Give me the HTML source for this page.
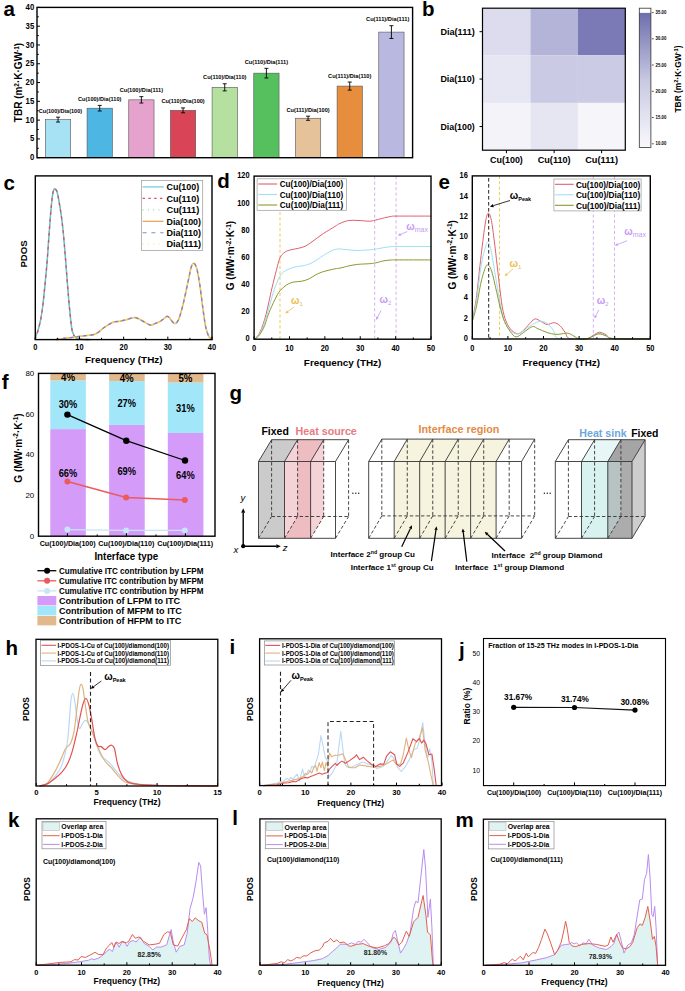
<!DOCTYPE html>
<html><head><meta charset="utf-8"><style>
html,body{margin:0;padding:0;background:#fff;}
svg{display:block;font-family:"Liberation Sans", sans-serif;}
</style></head><body>
<svg width="685" height="991" viewBox="0 0 685 991">
<rect width="685" height="991" fill="#fff"/>
<text x="3.40" y="16.10" font-size="20.5" font-weight="bold" fill="#000">a</text>
<rect x="45.40" y="119.60" width="25.30" height="38.10" fill="#a6e2f4" stroke="#555" stroke-width="0.6" />
<line x1="58.05" y1="117.16" x2="58.05" y2="122.04" stroke="#000" stroke-width="0.9" stroke-linecap="butt"/>
<line x1="56.05" y1="117.16" x2="60.05" y2="117.16" stroke="#000" stroke-width="0.9" stroke-linecap="butt"/>
<line x1="56.05" y1="122.04" x2="60.05" y2="122.04" stroke="#000" stroke-width="0.9" stroke-linecap="butt"/>
<text x="60.45" y="112.67" font-size="5.6" font-weight="bold" text-anchor="middle" fill="#000" textLength="43.30" lengthAdjust="spacingAndGlyphs">Cu(100)/Dia(100)</text>
<rect x="87.07" y="108.21" width="25.30" height="49.49" fill="#4db6e2" stroke="#555" stroke-width="0.6" />
<line x1="99.72" y1="105.40" x2="99.72" y2="111.03" stroke="#000" stroke-width="0.9" stroke-linecap="butt"/>
<line x1="97.72" y1="105.40" x2="101.72" y2="105.40" stroke="#000" stroke-width="0.9" stroke-linecap="butt"/>
<line x1="97.72" y1="111.03" x2="101.72" y2="111.03" stroke="#000" stroke-width="0.9" stroke-linecap="butt"/>
<text x="99.72" y="100.91" font-size="5.6" font-weight="bold" text-anchor="middle" fill="#000" textLength="43.30" lengthAdjust="spacingAndGlyphs">Cu(100)/Dia(110)</text>
<rect x="128.74" y="99.83" width="25.30" height="57.87" fill="#e4a2cc" stroke="#555" stroke-width="0.6" />
<line x1="141.39" y1="96.64" x2="141.39" y2="103.03" stroke="#000" stroke-width="0.9" stroke-linecap="butt"/>
<line x1="139.39" y1="96.64" x2="143.39" y2="96.64" stroke="#000" stroke-width="0.9" stroke-linecap="butt"/>
<line x1="139.39" y1="103.03" x2="143.39" y2="103.03" stroke="#000" stroke-width="0.9" stroke-linecap="butt"/>
<text x="141.39" y="92.16" font-size="5.6" font-weight="bold" text-anchor="middle" fill="#000" textLength="43.30" lengthAdjust="spacingAndGlyphs">Cu(100)/Dia(111)</text>
<rect x="170.41" y="110.36" width="25.30" height="47.34" fill="#d94456" stroke="#555" stroke-width="0.6" />
<line x1="183.06" y1="107.91" x2="183.06" y2="112.80" stroke="#000" stroke-width="0.9" stroke-linecap="butt"/>
<line x1="181.06" y1="107.91" x2="185.06" y2="107.91" stroke="#000" stroke-width="0.9" stroke-linecap="butt"/>
<line x1="181.06" y1="112.80" x2="185.06" y2="112.80" stroke="#000" stroke-width="0.9" stroke-linecap="butt"/>
<text x="183.06" y="103.43" font-size="5.6" font-weight="bold" text-anchor="middle" fill="#000" textLength="43.30" lengthAdjust="spacingAndGlyphs">Cu(110)/Dia(100)</text>
<rect x="212.08" y="87.32" width="25.30" height="70.38" fill="#b6e0a0" stroke="#555" stroke-width="0.6" />
<line x1="224.73" y1="83.75" x2="224.73" y2="90.89" stroke="#000" stroke-width="0.9" stroke-linecap="butt"/>
<line x1="222.73" y1="83.75" x2="226.73" y2="83.75" stroke="#000" stroke-width="0.9" stroke-linecap="butt"/>
<line x1="222.73" y1="90.89" x2="226.73" y2="90.89" stroke="#000" stroke-width="0.9" stroke-linecap="butt"/>
<text x="224.73" y="79.27" font-size="5.6" font-weight="bold" text-anchor="middle" fill="#000" textLength="43.30" lengthAdjust="spacingAndGlyphs">Cu(110)/Dia(110)</text>
<rect x="253.75" y="73.16" width="25.30" height="84.54" fill="#56c05e" stroke="#555" stroke-width="0.6" />
<line x1="266.40" y1="68.35" x2="266.40" y2="77.97" stroke="#000" stroke-width="0.9" stroke-linecap="butt"/>
<line x1="264.40" y1="68.35" x2="268.40" y2="68.35" stroke="#000" stroke-width="0.9" stroke-linecap="butt"/>
<line x1="264.40" y1="77.97" x2="268.40" y2="77.97" stroke="#000" stroke-width="0.9" stroke-linecap="butt"/>
<text x="266.40" y="63.86" font-size="5.6" font-weight="bold" text-anchor="middle" fill="#000" textLength="43.30" lengthAdjust="spacingAndGlyphs">Cu(110)/Dia(111)</text>
<rect x="295.42" y="118.25" width="25.30" height="39.45" fill="#e6c29a" stroke="#555" stroke-width="0.6" />
<line x1="308.07" y1="116.18" x2="308.07" y2="120.31" stroke="#000" stroke-width="0.9" stroke-linecap="butt"/>
<line x1="306.07" y1="116.18" x2="310.07" y2="116.18" stroke="#000" stroke-width="0.9" stroke-linecap="butt"/>
<line x1="306.07" y1="120.31" x2="310.07" y2="120.31" stroke="#000" stroke-width="0.9" stroke-linecap="butt"/>
<text x="308.07" y="111.70" font-size="5.6" font-weight="bold" text-anchor="middle" fill="#000" textLength="43.30" lengthAdjust="spacingAndGlyphs">Cu(111)/Dia(100)</text>
<rect x="337.09" y="86.08" width="25.30" height="71.62" fill="#e68e3e" stroke="#555" stroke-width="0.6" />
<line x1="349.74" y1="82.06" x2="349.74" y2="90.10" stroke="#000" stroke-width="0.9" stroke-linecap="butt"/>
<line x1="347.74" y1="82.06" x2="351.74" y2="82.06" stroke="#000" stroke-width="0.9" stroke-linecap="butt"/>
<line x1="347.74" y1="90.10" x2="351.74" y2="90.10" stroke="#000" stroke-width="0.9" stroke-linecap="butt"/>
<text x="349.74" y="77.58" font-size="5.6" font-weight="bold" text-anchor="middle" fill="#000" textLength="43.30" lengthAdjust="spacingAndGlyphs">Cu(111)/Dia(110)</text>
<rect x="378.76" y="32.09" width="25.30" height="125.61" fill="#b8b8e0" stroke="#555" stroke-width="0.6" />
<line x1="391.41" y1="25.70" x2="391.41" y2="38.47" stroke="#000" stroke-width="0.9" stroke-linecap="butt"/>
<line x1="389.41" y1="25.70" x2="393.41" y2="25.70" stroke="#000" stroke-width="0.9" stroke-linecap="butt"/>
<line x1="389.41" y1="38.47" x2="393.41" y2="38.47" stroke="#000" stroke-width="0.9" stroke-linecap="butt"/>
<text x="387.71" y="21.22" font-size="5.6" font-weight="bold" text-anchor="middle" fill="#000" textLength="43.30" lengthAdjust="spacingAndGlyphs">Cu(111)/Dia(111)</text>
<rect x="37.00" y="7.40" width="375.60" height="150.30" fill="none" stroke="#000" stroke-width="1.4"/>
<line x1="37.00" y1="157.70" x2="40.00" y2="157.70" stroke="#000" stroke-width="1" stroke-linecap="butt"/>
<line x1="37.00" y1="148.31" x2="38.80" y2="148.31" stroke="#000" stroke-width="1" stroke-linecap="butt"/>
<line x1="37.00" y1="138.91" x2="40.00" y2="138.91" stroke="#000" stroke-width="1" stroke-linecap="butt"/>
<line x1="37.00" y1="129.52" x2="38.80" y2="129.52" stroke="#000" stroke-width="1" stroke-linecap="butt"/>
<line x1="37.00" y1="120.12" x2="40.00" y2="120.12" stroke="#000" stroke-width="1" stroke-linecap="butt"/>
<line x1="37.00" y1="110.73" x2="38.80" y2="110.73" stroke="#000" stroke-width="1" stroke-linecap="butt"/>
<line x1="37.00" y1="101.34" x2="40.00" y2="101.34" stroke="#000" stroke-width="1" stroke-linecap="butt"/>
<line x1="37.00" y1="91.94" x2="38.80" y2="91.94" stroke="#000" stroke-width="1" stroke-linecap="butt"/>
<line x1="37.00" y1="82.55" x2="40.00" y2="82.55" stroke="#000" stroke-width="1" stroke-linecap="butt"/>
<line x1="37.00" y1="73.16" x2="38.80" y2="73.16" stroke="#000" stroke-width="1" stroke-linecap="butt"/>
<line x1="37.00" y1="63.76" x2="40.00" y2="63.76" stroke="#000" stroke-width="1" stroke-linecap="butt"/>
<line x1="37.00" y1="54.37" x2="38.80" y2="54.37" stroke="#000" stroke-width="1" stroke-linecap="butt"/>
<line x1="37.00" y1="44.97" x2="40.00" y2="44.97" stroke="#000" stroke-width="1" stroke-linecap="butt"/>
<line x1="37.00" y1="35.58" x2="38.80" y2="35.58" stroke="#000" stroke-width="1" stroke-linecap="butt"/>
<line x1="37.00" y1="26.19" x2="40.00" y2="26.19" stroke="#000" stroke-width="1" stroke-linecap="butt"/>
<line x1="37.00" y1="16.79" x2="38.80" y2="16.79" stroke="#000" stroke-width="1" stroke-linecap="butt"/>
<line x1="37.00" y1="7.40" x2="40.00" y2="7.40" stroke="#000" stroke-width="1" stroke-linecap="butt"/>
<text x="34.20" y="160.25" font-size="8.2" font-weight="bold" text-anchor="end" fill="#000" textLength="4.30" lengthAdjust="spacingAndGlyphs">0</text>
<text x="34.20" y="141.46" font-size="8.2" font-weight="bold" text-anchor="end" fill="#000" textLength="4.30" lengthAdjust="spacingAndGlyphs">5</text>
<text x="34.20" y="122.68" font-size="8.2" font-weight="bold" text-anchor="end" fill="#000" textLength="8.60" lengthAdjust="spacingAndGlyphs">10</text>
<text x="34.20" y="103.89" font-size="8.2" font-weight="bold" text-anchor="end" fill="#000" textLength="8.60" lengthAdjust="spacingAndGlyphs">15</text>
<text x="34.20" y="85.10" font-size="8.2" font-weight="bold" text-anchor="end" fill="#000" textLength="8.60" lengthAdjust="spacingAndGlyphs">20</text>
<text x="34.20" y="66.31" font-size="8.2" font-weight="bold" text-anchor="end" fill="#000" textLength="8.60" lengthAdjust="spacingAndGlyphs">25</text>
<text x="34.20" y="47.53" font-size="8.2" font-weight="bold" text-anchor="end" fill="#000" textLength="8.60" lengthAdjust="spacingAndGlyphs">30</text>
<text x="34.20" y="28.74" font-size="8.2" font-weight="bold" text-anchor="end" fill="#000" textLength="8.60" lengthAdjust="spacingAndGlyphs">35</text>
<text x="34.20" y="9.95" font-size="8.2" font-weight="bold" text-anchor="end" fill="#000" textLength="8.60" lengthAdjust="spacingAndGlyphs">40</text>
<text x="18.50" y="86.10" font-size="10" font-weight="bold" text-anchor="middle" fill="#000" transform="rotate(-90 18.50 82.50)">TBR (m<tspan font-size="6.5" dy="-3.5">2</tspan><tspan dy="3.5">·K·GW</tspan><tspan font-size="6.5" dy="-3.5">-1</tspan><tspan dy="3.5">)</tspan></text>
<text x="422.00" y="16.00" font-size="20.5" font-weight="bold" fill="#000">b</text>
<rect x="482.50" y="8.20" width="47.90" height="47.00" fill="#dcdcee" stroke="none" stroke-width="1" />
<rect x="530.40" y="8.20" width="47.50" height="47.00" fill="#b4b4d8" stroke="none" stroke-width="1" />
<rect x="577.90" y="8.20" width="47.40" height="47.00" fill="#7c7ab6" stroke="none" stroke-width="1" />
<rect x="482.50" y="55.20" width="47.90" height="47.70" fill="#e7e7f4" stroke="none" stroke-width="1" />
<rect x="530.40" y="55.20" width="47.50" height="47.70" fill="#cacae4" stroke="none" stroke-width="1" />
<rect x="577.90" y="55.20" width="47.40" height="47.70" fill="#cbcbe5" stroke="none" stroke-width="1" />
<rect x="482.50" y="102.90" width="47.90" height="47.30" fill="#f3f3f9" stroke="none" stroke-width="1" />
<rect x="530.40" y="102.90" width="47.50" height="47.30" fill="#e6e6f3" stroke="none" stroke-width="1" />
<rect x="577.90" y="102.90" width="47.40" height="47.30" fill="#f5f5fa" stroke="none" stroke-width="1" />
<rect x="482.50" y="8.20" width="142.80" height="142.00" fill="none" stroke="#000" stroke-width="1.2"/>
<line x1="479.50" y1="31.70" x2="482.50" y2="31.70" stroke="#000" stroke-width="1" stroke-linecap="butt"/>
<text x="474.80" y="34.90" font-size="8.9" font-weight="bold" text-anchor="end" fill="#000" textLength="34.40" lengthAdjust="spacingAndGlyphs">Dia(111)</text>
<line x1="479.50" y1="79.05" x2="482.50" y2="79.05" stroke="#000" stroke-width="1" stroke-linecap="butt"/>
<text x="474.80" y="82.25" font-size="8.9" font-weight="bold" text-anchor="end" fill="#000" textLength="34.40" lengthAdjust="spacingAndGlyphs">Dia(110)</text>
<line x1="479.50" y1="126.55" x2="482.50" y2="126.55" stroke="#000" stroke-width="1" stroke-linecap="butt"/>
<text x="474.80" y="129.75" font-size="8.9" font-weight="bold" text-anchor="end" fill="#000" textLength="34.40" lengthAdjust="spacingAndGlyphs">Dia(100)</text>
<line x1="506.45" y1="150.20" x2="506.45" y2="153.20" stroke="#000" stroke-width="1" stroke-linecap="butt"/>
<text x="506.45" y="163.20" font-size="8.9" font-weight="bold" text-anchor="middle" fill="#000" textLength="32.80" lengthAdjust="spacingAndGlyphs">Cu(100)</text>
<line x1="554.15" y1="150.20" x2="554.15" y2="153.20" stroke="#000" stroke-width="1" stroke-linecap="butt"/>
<text x="554.15" y="163.20" font-size="8.9" font-weight="bold" text-anchor="middle" fill="#000" textLength="32.80" lengthAdjust="spacingAndGlyphs">Cu(110)</text>
<line x1="601.60" y1="150.20" x2="601.60" y2="153.20" stroke="#000" stroke-width="1" stroke-linecap="butt"/>
<text x="601.60" y="163.20" font-size="8.9" font-weight="bold" text-anchor="middle" fill="#000" textLength="32.80" lengthAdjust="spacingAndGlyphs">Cu(111)</text>
<defs><linearGradient id="cb" x1="0" y1="1" x2="0" y2="0"><stop offset="0" stop-color="#f9f9fc"/><stop offset="0.5" stop-color="#c8c8e2"/><stop offset="1" stop-color="#6e6eae"/></linearGradient></defs>
<rect x="639.30" y="12.90" width="11.60" height="134.70" fill="url(#cb)" stroke="none" stroke-width="1" />
<rect x="639.30" y="8.20" width="11.60" height="139.40" fill="none" stroke="#333" stroke-width="0.8" />
<line x1="651.90" y1="143.80" x2="653.70" y2="143.80" stroke="#000" stroke-width="0.7" stroke-linecap="butt"/>
<text x="655.60" y="145.46" font-size="4.6" font-weight="bold" text-anchor="start" fill="#000" textLength="10.80" lengthAdjust="spacingAndGlyphs">10.00</text>
<line x1="651.90" y1="117.50" x2="653.70" y2="117.50" stroke="#000" stroke-width="0.7" stroke-linecap="butt"/>
<text x="655.60" y="119.16" font-size="4.6" font-weight="bold" text-anchor="start" fill="#000" textLength="10.80" lengthAdjust="spacingAndGlyphs">15.00</text>
<line x1="651.90" y1="91.30" x2="653.70" y2="91.30" stroke="#000" stroke-width="0.7" stroke-linecap="butt"/>
<text x="655.60" y="92.96" font-size="4.6" font-weight="bold" text-anchor="start" fill="#000" textLength="10.80" lengthAdjust="spacingAndGlyphs">20.00</text>
<line x1="651.90" y1="65.00" x2="653.70" y2="65.00" stroke="#000" stroke-width="0.7" stroke-linecap="butt"/>
<text x="655.60" y="66.66" font-size="4.6" font-weight="bold" text-anchor="start" fill="#000" textLength="10.80" lengthAdjust="spacingAndGlyphs">25.00</text>
<line x1="651.90" y1="38.80" x2="653.70" y2="38.80" stroke="#000" stroke-width="0.7" stroke-linecap="butt"/>
<text x="655.60" y="40.46" font-size="4.6" font-weight="bold" text-anchor="start" fill="#000" textLength="10.80" lengthAdjust="spacingAndGlyphs">30.00</text>
<line x1="651.90" y1="12.60" x2="653.70" y2="12.60" stroke="#000" stroke-width="0.7" stroke-linecap="butt"/>
<text x="655.60" y="14.26" font-size="4.6" font-weight="bold" text-anchor="start" fill="#000" textLength="10.80" lengthAdjust="spacingAndGlyphs">35.00</text>
<text x="678.20" y="82.02" font-size="8.4" font-weight="bold" text-anchor="middle" fill="#000" transform="rotate(-90 678.20 79.00)">TBR (m<tspan font-size="5.8" dy="-3.2">2</tspan><tspan dy="3.2">·K·GW</tspan><tspan font-size="5.8" dy="-3.2">-1</tspan><tspan dy="3.2">)</tspan></text>
<text x="3.60" y="190.00" font-size="20.5" font-weight="bold" fill="#000">c</text>
<path d="M35.30,339.20 C35.45,338.53 35.75,336.65 36.20,335.20 C36.65,333.75 37.27,333.03 38.00,330.50 C38.73,327.97 39.85,323.75 40.60,320.00 C41.35,316.25 41.92,312.38 42.50,308.00 C43.08,303.62 43.38,300.80 44.10,293.70 C44.82,286.60 46.05,274.23 46.80,265.40 C47.55,256.57 48.02,248.65 48.60,240.70 C49.18,232.75 49.72,224.77 50.30,217.70 C50.88,210.63 51.57,202.83 52.10,198.30 C52.63,193.77 53.07,192.12 53.50,190.50 C53.93,188.88 54.28,188.72 54.70,188.60 C55.12,188.48 55.55,189.07 56.00,189.80 C56.45,190.53 56.77,190.30 57.40,193.00 C58.03,195.70 59.07,201.58 59.80,206.00 C60.53,210.42 61.18,214.67 61.80,219.50 C62.42,224.33 62.93,229.08 63.50,235.00 C64.07,240.92 64.63,248.00 65.20,255.00 C65.77,262.00 66.33,269.83 66.90,277.00 C67.47,284.17 68.03,291.50 68.60,298.00 C69.17,304.50 69.67,310.42 70.30,316.00 C70.93,321.58 71.47,327.87 72.40,331.50 C73.33,335.13 74.43,336.52 75.90,337.80 C77.37,339.08 78.85,338.90 81.20,339.20 C83.55,339.50 88.53,339.53 90.00,339.60" fill="none" stroke="#62c4e6" stroke-width="1.5" stroke-linejoin="round" stroke-linecap="round" />
<path d="M35.30,339.20 C35.45,338.53 35.75,336.65 36.20,335.20 C36.65,333.75 37.27,333.03 38.00,330.50 C38.73,327.97 39.85,323.75 40.60,320.00 C41.35,316.25 41.92,312.38 42.50,308.00 C43.08,303.62 43.38,300.80 44.10,293.70 C44.82,286.60 46.05,274.23 46.80,265.40 C47.55,256.57 48.02,248.65 48.60,240.70 C49.18,232.75 49.72,224.77 50.30,217.70 C50.88,210.63 51.57,202.83 52.10,198.30 C52.63,193.77 53.07,192.12 53.50,190.50 C53.93,188.88 54.28,188.72 54.70,188.60 C55.12,188.48 55.55,189.07 56.00,189.80 C56.45,190.53 56.77,190.30 57.40,193.00 C58.03,195.70 59.07,201.58 59.80,206.00 C60.53,210.42 61.18,214.67 61.80,219.50 C62.42,224.33 62.93,229.08 63.50,235.00 C64.07,240.92 64.63,248.00 65.20,255.00 C65.77,262.00 66.33,269.83 66.90,277.00 C67.47,284.17 68.03,291.50 68.60,298.00 C69.17,304.50 69.67,310.42 70.30,316.00 C70.93,321.58 71.47,327.87 72.40,331.50 C73.33,335.13 74.43,336.52 75.90,337.80 C77.37,339.08 78.85,338.90 81.20,339.20 C83.55,339.50 88.53,339.53 90.00,339.60" fill="none" stroke="#d84c66" stroke-width="1.3" stroke-dasharray="2.2,4.8" stroke-linejoin="round" stroke-linecap="round" />
<path d="M35.30,339.20 C35.45,338.53 35.75,336.65 36.20,335.20 C36.65,333.75 37.27,333.03 38.00,330.50 C38.73,327.97 39.85,323.75 40.60,320.00 C41.35,316.25 41.92,312.38 42.50,308.00 C43.08,303.62 43.38,300.80 44.10,293.70 C44.82,286.60 46.05,274.23 46.80,265.40 C47.55,256.57 48.02,248.65 48.60,240.70 C49.18,232.75 49.72,224.77 50.30,217.70 C50.88,210.63 51.57,202.83 52.10,198.30 C52.63,193.77 53.07,192.12 53.50,190.50 C53.93,188.88 54.28,188.72 54.70,188.60 C55.12,188.48 55.55,189.07 56.00,189.80 C56.45,190.53 56.77,190.30 57.40,193.00 C58.03,195.70 59.07,201.58 59.80,206.00 C60.53,210.42 61.18,214.67 61.80,219.50 C62.42,224.33 62.93,229.08 63.50,235.00 C64.07,240.92 64.63,248.00 65.20,255.00 C65.77,262.00 66.33,269.83 66.90,277.00 C67.47,284.17 68.03,291.50 68.60,298.00 C69.17,304.50 69.67,310.42 70.30,316.00 C70.93,321.58 71.47,327.87 72.40,331.50 C73.33,335.13 74.43,336.52 75.90,337.80 C77.37,339.08 78.85,338.90 81.20,339.20 C83.55,339.50 88.53,339.53 90.00,339.60" fill="none" stroke="#70cc80" stroke-width="1.1" stroke-dasharray="1.0,6.0" stroke-linejoin="round" stroke-linecap="round" stroke-dashoffset="-3.5"/>
<path d="M56.50,339.50 C57.97,339.28 62.35,338.58 65.30,338.20 C68.25,337.82 71.25,337.58 74.20,337.20 C77.15,336.82 79.47,336.43 83.00,335.90 C86.53,335.37 91.87,335.40 95.40,334.00 C98.93,332.60 101.27,329.45 104.20,327.50 C107.13,325.55 110.37,323.35 113.00,322.30 C115.63,321.25 117.68,321.67 120.00,321.20 C122.32,320.73 124.47,320.12 126.90,319.50 C129.33,318.88 132.28,317.42 134.60,317.50 C136.92,317.58 138.27,318.77 140.80,320.00 C143.33,321.23 147.43,324.30 149.80,324.90 C152.17,325.50 153.27,324.18 155.00,323.60 C156.73,323.02 158.62,322.33 160.20,321.40 C161.78,320.47 163.33,318.85 164.50,318.00 C165.67,317.15 166.37,316.33 167.20,316.30 C168.03,316.27 168.82,317.10 169.50,317.80 C170.18,318.50 170.63,319.67 171.30,320.50 C171.97,321.33 172.80,322.30 173.50,322.80 C174.20,323.30 174.83,323.72 175.50,323.50 C176.17,323.28 176.82,322.58 177.50,321.50 C178.18,320.42 178.55,320.37 179.60,317.00 C180.65,313.63 182.40,307.15 183.80,301.30 C185.20,295.45 186.73,287.68 188.00,281.90 C189.27,276.12 190.37,269.67 191.40,266.60 C192.43,263.53 193.27,263.03 194.20,263.50 C195.13,263.97 196.07,265.87 197.00,269.40 C197.93,272.93 198.88,278.68 199.80,284.70 C200.72,290.72 201.58,298.80 202.50,305.50 C203.42,312.20 204.38,320.05 205.30,324.90 C206.22,329.75 207.08,332.28 208.00,334.60 C208.92,336.92 210.13,338.00 210.80,338.80 C211.47,339.60 211.80,339.30 212.00,339.40" fill="none" stroke="#e8a050" stroke-width="1.5" stroke-linejoin="round" stroke-linecap="round" />
<path d="M56.50,339.50 C57.97,339.28 62.35,338.58 65.30,338.20 C68.25,337.82 71.25,337.58 74.20,337.20 C77.15,336.82 79.47,336.43 83.00,335.90 C86.53,335.37 91.87,335.40 95.40,334.00 C98.93,332.60 101.27,329.45 104.20,327.50 C107.13,325.55 110.37,323.35 113.00,322.30 C115.63,321.25 117.68,321.67 120.00,321.20 C122.32,320.73 124.47,320.12 126.90,319.50 C129.33,318.88 132.28,317.42 134.60,317.50 C136.92,317.58 138.27,318.77 140.80,320.00 C143.33,321.23 147.43,324.30 149.80,324.90 C152.17,325.50 153.27,324.18 155.00,323.60 C156.73,323.02 158.62,322.33 160.20,321.40 C161.78,320.47 163.33,318.85 164.50,318.00 C165.67,317.15 166.37,316.33 167.20,316.30 C168.03,316.27 168.82,317.10 169.50,317.80 C170.18,318.50 170.63,319.67 171.30,320.50 C171.97,321.33 172.80,322.30 173.50,322.80 C174.20,323.30 174.83,323.72 175.50,323.50 C176.17,323.28 176.82,322.58 177.50,321.50 C178.18,320.42 178.55,320.37 179.60,317.00 C180.65,313.63 182.40,307.15 183.80,301.30 C185.20,295.45 186.73,287.68 188.00,281.90 C189.27,276.12 190.37,269.67 191.40,266.60 C192.43,263.53 193.27,263.03 194.20,263.50 C195.13,263.97 196.07,265.87 197.00,269.40 C197.93,272.93 198.88,278.68 199.80,284.70 C200.72,290.72 201.58,298.80 202.50,305.50 C203.42,312.20 204.38,320.05 205.30,324.90 C206.22,329.75 207.08,332.28 208.00,334.60 C208.92,336.92 210.13,338.00 210.80,338.80 C211.47,339.60 211.80,339.30 212.00,339.40" fill="none" stroke="#7388d8" stroke-width="1.3" stroke-dasharray="2.2,4.8" stroke-linejoin="round" stroke-linecap="round" />
<path d="M56.50,339.50 C57.97,339.28 62.35,338.58 65.30,338.20 C68.25,337.82 71.25,337.58 74.20,337.20 C77.15,336.82 79.47,336.43 83.00,335.90 C86.53,335.37 91.87,335.40 95.40,334.00 C98.93,332.60 101.27,329.45 104.20,327.50 C107.13,325.55 110.37,323.35 113.00,322.30 C115.63,321.25 117.68,321.67 120.00,321.20 C122.32,320.73 124.47,320.12 126.90,319.50 C129.33,318.88 132.28,317.42 134.60,317.50 C136.92,317.58 138.27,318.77 140.80,320.00 C143.33,321.23 147.43,324.30 149.80,324.90 C152.17,325.50 153.27,324.18 155.00,323.60 C156.73,323.02 158.62,322.33 160.20,321.40 C161.78,320.47 163.33,318.85 164.50,318.00 C165.67,317.15 166.37,316.33 167.20,316.30 C168.03,316.27 168.82,317.10 169.50,317.80 C170.18,318.50 170.63,319.67 171.30,320.50 C171.97,321.33 172.80,322.30 173.50,322.80 C174.20,323.30 174.83,323.72 175.50,323.50 C176.17,323.28 176.82,322.58 177.50,321.50 C178.18,320.42 178.55,320.37 179.60,317.00 C180.65,313.63 182.40,307.15 183.80,301.30 C185.20,295.45 186.73,287.68 188.00,281.90 C189.27,276.12 190.37,269.67 191.40,266.60 C192.43,263.53 193.27,263.03 194.20,263.50 C195.13,263.97 196.07,265.87 197.00,269.40 C197.93,272.93 198.88,278.68 199.80,284.70 C200.72,290.72 201.58,298.80 202.50,305.50 C203.42,312.20 204.38,320.05 205.30,324.90 C206.22,329.75 207.08,332.28 208.00,334.60 C208.92,336.92 210.13,338.00 210.80,338.80 C211.47,339.60 211.80,339.30 212.00,339.40" fill="none" stroke="#eaea60" stroke-width="1.1" stroke-dasharray="1.0,6.0" stroke-linejoin="round" stroke-linecap="round" stroke-dashoffset="-3.5"/>
<rect x="35.30" y="175.90" width="176.70" height="163.70" fill="none" stroke="#000" stroke-width="1.4"/>
<line x1="35.30" y1="339.60" x2="35.30" y2="336.60" stroke="#000" stroke-width="1" stroke-linecap="butt"/>
<line x1="57.39" y1="339.60" x2="57.39" y2="337.80" stroke="#000" stroke-width="1" stroke-linecap="butt"/>
<line x1="79.47" y1="339.60" x2="79.47" y2="336.60" stroke="#000" stroke-width="1" stroke-linecap="butt"/>
<line x1="101.56" y1="339.60" x2="101.56" y2="337.80" stroke="#000" stroke-width="1" stroke-linecap="butt"/>
<line x1="123.65" y1="339.60" x2="123.65" y2="336.60" stroke="#000" stroke-width="1" stroke-linecap="butt"/>
<line x1="145.74" y1="339.60" x2="145.74" y2="337.80" stroke="#000" stroke-width="1" stroke-linecap="butt"/>
<line x1="167.82" y1="339.60" x2="167.82" y2="336.60" stroke="#000" stroke-width="1" stroke-linecap="butt"/>
<line x1="189.91" y1="339.60" x2="189.91" y2="337.80" stroke="#000" stroke-width="1" stroke-linecap="butt"/>
<line x1="212.00" y1="339.60" x2="212.00" y2="336.60" stroke="#000" stroke-width="1" stroke-linecap="butt"/>
<text x="35.30" y="350.15" font-size="8.2" font-weight="bold" text-anchor="middle" fill="#000" textLength="4.15" lengthAdjust="spacingAndGlyphs">0</text>
<text x="79.47" y="350.15" font-size="8.2" font-weight="bold" text-anchor="middle" fill="#000" textLength="8.30" lengthAdjust="spacingAndGlyphs">10</text>
<text x="123.65" y="350.15" font-size="8.2" font-weight="bold" text-anchor="middle" fill="#000" textLength="8.30" lengthAdjust="spacingAndGlyphs">20</text>
<text x="167.82" y="350.15" font-size="8.2" font-weight="bold" text-anchor="middle" fill="#000" textLength="8.30" lengthAdjust="spacingAndGlyphs">30</text>
<text x="212.00" y="350.15" font-size="8.2" font-weight="bold" text-anchor="middle" fill="#000" textLength="8.30" lengthAdjust="spacingAndGlyphs">40</text>
<text x="123.80" y="363.22" font-size="9.5" font-weight="bold" text-anchor="middle" fill="#000" textLength="77.50" lengthAdjust="spacingAndGlyphs">Frequency (THz)</text>
<text x="23.60" y="257.46" font-size="9.6" font-weight="bold" text-anchor="middle" fill="#000" transform="rotate(-90 23.60 254.00)">PDOS</text>
<rect x="141.40" y="180.50" width="61.30" height="70.10" fill="#fff" stroke="#999" stroke-width="0.7" />
<line x1="142.60" y1="186.90" x2="163.60" y2="186.90" stroke="#6cc8e2" stroke-width="1.2" stroke-linecap="butt"/>
<text x="166.50" y="190.14" font-size="9" font-weight="bold" text-anchor="start" fill="#000" textLength="32.70" lengthAdjust="spacingAndGlyphs">Cu(100)</text>
<line x1="142.60" y1="198.36" x2="163.60" y2="198.36" stroke="#d84c66" stroke-width="1.2" stroke-dasharray="2.4,3.4" stroke-linecap="butt"/>
<text x="166.50" y="201.60" font-size="9" font-weight="bold" text-anchor="start" fill="#000" textLength="32.70" lengthAdjust="spacingAndGlyphs">Cu(110)</text>
<line x1="142.60" y1="209.82" x2="163.60" y2="209.82" stroke="#8ede96" stroke-width="1.2" stroke-dasharray="1,4.3" stroke-linecap="butt"/>
<text x="166.50" y="213.06" font-size="9" font-weight="bold" text-anchor="start" fill="#000" textLength="32.70" lengthAdjust="spacingAndGlyphs">Cu(111)</text>
<line x1="142.60" y1="221.28" x2="163.60" y2="221.28" stroke="#e8a050" stroke-width="1.2" stroke-linecap="butt"/>
<text x="166.50" y="224.52" font-size="9" font-weight="bold" text-anchor="start" fill="#000" textLength="34.50" lengthAdjust="spacingAndGlyphs">Dia(100)</text>
<line x1="142.60" y1="232.74" x2="163.60" y2="232.74" stroke="#7b8fd9" stroke-width="1.2" stroke-dasharray="4,4.8" stroke-linecap="butt"/>
<text x="166.50" y="235.98" font-size="9" font-weight="bold" text-anchor="start" fill="#000" textLength="34.50" lengthAdjust="spacingAndGlyphs">Dia(110)</text>
<line x1="142.60" y1="244.20" x2="163.60" y2="244.20" stroke="#f0f070" stroke-width="1.2" stroke-dasharray="1,4.3" stroke-linecap="butt"/>
<text x="166.50" y="247.44" font-size="9" font-weight="bold" text-anchor="start" fill="#000" textLength="34.50" lengthAdjust="spacingAndGlyphs">Dia(111)</text>
<text x="217.20" y="187.90" font-size="20.5" font-weight="bold" fill="#000">d</text>
<line x1="280.00" y1="212.00" x2="280.00" y2="339.20" stroke="#ecd064" stroke-width="1.1" stroke-dasharray="3,2.4" stroke-linecap="butt"/>
<line x1="374.70" y1="176.10" x2="374.70" y2="339.20" stroke="#cfa9f6" stroke-width="0.9" stroke-dasharray="3.2,2.3" stroke-linecap="butt"/>
<line x1="396.10" y1="176.10" x2="396.10" y2="339.20" stroke="#cfa9f6" stroke-width="0.9" stroke-dasharray="3.2,2.3" stroke-linecap="butt"/>
<path d="M254.40,339.10 C254.83,338.72 256.03,338.02 257.00,336.80 C257.97,335.58 259.20,333.85 260.20,331.80 C261.20,329.75 262.02,327.43 263.00,324.50 C263.98,321.57 265.10,318.03 266.10,314.20 C267.10,310.37 268.02,305.90 269.00,301.50 C269.98,297.10 270.77,293.00 272.00,287.80 C273.23,282.60 275.07,275.30 276.40,270.30 C277.73,265.30 278.55,260.85 280.00,257.80 C281.45,254.75 283.27,253.33 285.10,252.00 C286.93,250.67 288.80,250.42 291.00,249.80 C293.20,249.18 295.87,248.92 298.30,248.30 C300.73,247.68 303.15,247.32 305.60,246.10 C308.05,244.88 310.07,243.07 313.00,241.00 C315.93,238.93 319.53,236.13 323.20,233.70 C326.87,231.27 332.20,228.12 335.00,226.40 C337.80,224.68 337.70,224.38 340.00,223.40 C342.30,222.42 345.63,220.98 348.80,220.50 C351.97,220.02 355.58,220.38 359.00,220.50 C362.42,220.62 366.62,221.25 369.30,221.20 C371.98,221.15 372.90,220.68 375.10,220.20 C377.30,219.72 379.82,218.93 382.50,218.30 C385.18,217.67 388.93,216.77 391.20,216.40 C393.47,216.03 389.47,216.15 396.10,216.10 C402.73,216.05 425.18,216.10 431.00,216.10" fill="none" stroke="#e0606a" stroke-width="1.0" stroke-linejoin="round" stroke-linecap="round" />
<path d="M254.40,339.10 C255.00,338.55 256.78,337.27 258.00,335.80 C259.22,334.33 260.62,332.52 261.70,330.30 C262.78,328.08 263.52,325.43 264.50,322.50 C265.48,319.57 266.12,317.75 267.60,312.70 C269.08,307.65 271.92,297.07 273.40,292.20 C274.88,287.33 275.40,286.18 276.50,283.50 C277.60,280.82 278.57,278.18 280.00,276.10 C281.43,274.02 282.78,272.47 285.10,271.00 C287.42,269.53 290.48,268.27 293.90,267.30 C297.32,266.33 302.42,266.05 305.60,265.20 C308.78,264.35 310.07,263.80 313.00,262.20 C315.93,260.60 320.03,257.55 323.20,255.60 C326.37,253.65 329.57,251.60 332.00,250.50 C334.43,249.40 336.47,249.25 337.80,249.00 C339.13,248.75 338.17,248.87 340.00,249.00 C341.83,249.13 345.87,249.55 348.80,249.80 C351.73,250.05 354.18,250.50 357.60,250.50 C361.02,250.50 366.13,250.05 369.30,249.80 C372.47,249.55 374.17,249.37 376.60,249.00 C379.03,248.63 381.47,248.00 383.90,247.60 C386.33,247.20 389.18,246.78 391.20,246.60 C393.22,246.42 389.37,246.52 396.00,246.50 C402.63,246.48 425.17,246.50 431.00,246.50" fill="none" stroke="#9ee0f2" stroke-width="1.0" stroke-linejoin="round" stroke-linecap="round" />
<path d="M254.40,339.10 C255.08,338.62 257.03,337.92 258.50,336.20 C259.97,334.48 261.95,331.25 263.20,328.80 C264.45,326.35 265.03,324.18 266.00,321.50 C266.97,318.82 267.52,316.35 269.00,312.70 C270.48,309.05 273.07,303.25 274.90,299.60 C276.73,295.95 278.05,293.25 280.00,290.80 C281.95,288.35 284.28,286.37 286.60,284.90 C288.92,283.43 291.47,282.60 293.90,282.00 C296.33,281.40 298.75,281.78 301.20,281.30 C303.65,280.82 306.15,280.20 308.60,279.10 C311.05,278.00 313.47,275.93 315.90,274.70 C318.33,273.47 320.02,272.68 323.20,271.70 C326.38,270.72 332.20,269.40 335.00,268.80 C337.80,268.20 337.70,268.58 340.00,268.10 C342.30,267.62 345.87,266.52 348.80,265.90 C351.73,265.28 354.18,264.77 357.60,264.40 C361.02,264.03 366.38,263.93 369.30,263.70 C372.22,263.47 372.67,263.48 375.10,263.00 C377.53,262.52 381.22,261.30 383.90,260.80 C386.58,260.30 389.18,260.15 391.20,260.00 C393.22,259.85 389.37,259.92 396.00,259.90 C402.63,259.88 425.17,259.90 431.00,259.90" fill="none" stroke="#8a9a2c" stroke-width="1.0" stroke-linejoin="round" stroke-linecap="round" />
<rect x="254.10" y="176.10" width="176.90" height="163.10" fill="none" stroke="#000" stroke-width="1.4"/>
<line x1="254.10" y1="339.20" x2="254.10" y2="336.20" stroke="#000" stroke-width="1" stroke-linecap="butt"/>
<line x1="271.79" y1="339.20" x2="271.79" y2="337.40" stroke="#000" stroke-width="1" stroke-linecap="butt"/>
<line x1="289.48" y1="339.20" x2="289.48" y2="336.20" stroke="#000" stroke-width="1" stroke-linecap="butt"/>
<line x1="307.17" y1="339.20" x2="307.17" y2="337.40" stroke="#000" stroke-width="1" stroke-linecap="butt"/>
<line x1="324.86" y1="339.20" x2="324.86" y2="336.20" stroke="#000" stroke-width="1" stroke-linecap="butt"/>
<line x1="342.55" y1="339.20" x2="342.55" y2="337.40" stroke="#000" stroke-width="1" stroke-linecap="butt"/>
<line x1="360.24" y1="339.20" x2="360.24" y2="336.20" stroke="#000" stroke-width="1" stroke-linecap="butt"/>
<line x1="377.93" y1="339.20" x2="377.93" y2="337.40" stroke="#000" stroke-width="1" stroke-linecap="butt"/>
<line x1="395.62" y1="339.20" x2="395.62" y2="336.20" stroke="#000" stroke-width="1" stroke-linecap="butt"/>
<line x1="413.31" y1="339.20" x2="413.31" y2="337.40" stroke="#000" stroke-width="1" stroke-linecap="butt"/>
<line x1="431.00" y1="339.20" x2="431.00" y2="336.20" stroke="#000" stroke-width="1" stroke-linecap="butt"/>
<text x="254.10" y="350.55" font-size="8.2" font-weight="bold" text-anchor="middle" fill="#000" textLength="4.15" lengthAdjust="spacingAndGlyphs">0</text>
<text x="289.48" y="350.55" font-size="8.2" font-weight="bold" text-anchor="middle" fill="#000" textLength="8.30" lengthAdjust="spacingAndGlyphs">10</text>
<text x="324.86" y="350.55" font-size="8.2" font-weight="bold" text-anchor="middle" fill="#000" textLength="8.30" lengthAdjust="spacingAndGlyphs">20</text>
<text x="360.24" y="350.55" font-size="8.2" font-weight="bold" text-anchor="middle" fill="#000" textLength="8.30" lengthAdjust="spacingAndGlyphs">30</text>
<text x="395.62" y="350.55" font-size="8.2" font-weight="bold" text-anchor="middle" fill="#000" textLength="8.30" lengthAdjust="spacingAndGlyphs">40</text>
<text x="431.00" y="350.55" font-size="8.2" font-weight="bold" text-anchor="middle" fill="#000" textLength="8.30" lengthAdjust="spacingAndGlyphs">50</text>
<line x1="254.10" y1="339.20" x2="254.10" y2="339.20" stroke="#000" stroke-width="1" stroke-linecap="butt"/>
<line x1="254.10" y1="312.02" x2="254.10" y2="312.02" stroke="#000" stroke-width="1" stroke-linecap="butt"/>
<line x1="254.10" y1="284.83" x2="254.10" y2="284.83" stroke="#000" stroke-width="1" stroke-linecap="butt"/>
<line x1="254.10" y1="257.65" x2="254.10" y2="257.65" stroke="#000" stroke-width="1" stroke-linecap="butt"/>
<line x1="254.10" y1="230.47" x2="254.10" y2="230.47" stroke="#000" stroke-width="1" stroke-linecap="butt"/>
<line x1="254.10" y1="203.28" x2="254.10" y2="203.28" stroke="#000" stroke-width="1" stroke-linecap="butt"/>
<line x1="254.10" y1="176.10" x2="254.10" y2="176.10" stroke="#000" stroke-width="1" stroke-linecap="butt"/>
<text x="249.60" y="341.45" font-size="8.2" font-weight="bold" text-anchor="end" fill="#000" textLength="4.15" lengthAdjust="spacingAndGlyphs">0</text>
<text x="249.60" y="314.27" font-size="8.2" font-weight="bold" text-anchor="end" fill="#000" textLength="8.30" lengthAdjust="spacingAndGlyphs">20</text>
<text x="249.60" y="287.09" font-size="8.2" font-weight="bold" text-anchor="end" fill="#000" textLength="8.30" lengthAdjust="spacingAndGlyphs">40</text>
<text x="249.60" y="259.90" font-size="8.2" font-weight="bold" text-anchor="end" fill="#000" textLength="8.30" lengthAdjust="spacingAndGlyphs">60</text>
<text x="249.60" y="232.72" font-size="8.2" font-weight="bold" text-anchor="end" fill="#000" textLength="8.30" lengthAdjust="spacingAndGlyphs">80</text>
<text x="249.60" y="205.54" font-size="8.2" font-weight="bold" text-anchor="end" fill="#000" textLength="12.45" lengthAdjust="spacingAndGlyphs">100</text>
<text x="249.60" y="178.35" font-size="8.2" font-weight="bold" text-anchor="end" fill="#000" textLength="12.45" lengthAdjust="spacingAndGlyphs">120</text>
<text x="342.60" y="366.02" font-size="9.5" font-weight="bold" text-anchor="middle" fill="#000" textLength="77.50" lengthAdjust="spacingAndGlyphs">Frequency (THz)</text>
<text x="230.60" y="259.10" font-size="10" font-weight="bold" text-anchor="middle" fill="#000" transform="rotate(-90 230.60 255.50)">G (MW·m<tspan font-size="6.5" dy="-3.5">-2</tspan><tspan dy="3.5">·K</tspan><tspan font-size="6.5" dy="-3.5">-1</tspan><tspan dy="3.5">)</tspan></text>
<rect x="257.10" y="178.80" width="89.40" height="31.50" fill="#fff" stroke="#999" stroke-width="0.7" />
<line x1="258.30" y1="184.00" x2="277.20" y2="184.00" stroke="#e0606a" stroke-width="1.1" stroke-linecap="butt"/>
<text x="279.70" y="187.31" font-size="9.2" font-weight="bold" text-anchor="start" fill="#000" textLength="63.50" lengthAdjust="spacingAndGlyphs">Cu(100)/Dia(100)</text>
<line x1="258.30" y1="194.50" x2="277.20" y2="194.50" stroke="#9ee0f2" stroke-width="1.1" stroke-linecap="butt"/>
<text x="279.70" y="197.81" font-size="9.2" font-weight="bold" text-anchor="start" fill="#000" textLength="63.50" lengthAdjust="spacingAndGlyphs">Cu(100)/Dia(110)</text>
<line x1="258.30" y1="205.00" x2="277.20" y2="205.00" stroke="#8a9a2c" stroke-width="1.1" stroke-linecap="butt"/>
<text x="279.70" y="208.31" font-size="9.2" font-weight="bold" text-anchor="start" fill="#000" textLength="63.50" lengthAdjust="spacingAndGlyphs">Cu(100)/Dia(111)</text>
<text x="291" y="304" font-size="10" font-weight="bold" fill="#e8c050">ω<tspan font-size="6" font-weight="normal" dy="1.8">1</tspan></text>
<line x1="294.00" y1="307.00" x2="287.88" y2="311.50" stroke="#e8c050" stroke-width="0.8" stroke-linecap="butt"/>
<polygon points="285.30,313.40 287.02,310.34 288.73,312.66" fill="#e8c050" stroke="none" stroke-width="1" stroke-linejoin="round" />
<text x="379.5" y="303" font-size="10" font-weight="bold" fill="#c49af2">ω<tspan font-size="6" font-weight="normal" dy="1.8">2</tspan></text>
<line x1="381.00" y1="310.50" x2="377.49" y2="317.17" stroke="#c49af2" stroke-width="0.8" stroke-linecap="butt"/>
<polygon points="376.00,320.00 376.22,316.50 378.76,317.84" fill="#c49af2" stroke="none" stroke-width="1" stroke-linejoin="round" />
<text x="406.3" y="229.5" font-size="10" font-weight="bold" fill="#c49af2">ω<tspan font-size="7" font-weight="normal" dy="2.5">max</tspan></text>
<line x1="407.30" y1="231.50" x2="400.74" y2="234.33" stroke="#c49af2" stroke-width="0.8" stroke-linecap="butt"/>
<polygon points="397.80,235.60 400.17,233.01 401.31,235.65" fill="#c49af2" stroke="none" stroke-width="1" stroke-linejoin="round" />
<text x="438.60" y="189.30" font-size="20.5" font-weight="bold" fill="#000">e</text>
<line x1="488.70" y1="178.00" x2="488.70" y2="339.00" stroke="#222" stroke-width="1.0" stroke-dasharray="3.6,2.4" stroke-linecap="butt"/>
<line x1="499.50" y1="175.90" x2="499.50" y2="339.00" stroke="#ecd064" stroke-width="1.1" stroke-dasharray="3,2.4" stroke-linecap="butt"/>
<line x1="593.30" y1="175.90" x2="593.30" y2="339.00" stroke="#cfa9f6" stroke-width="0.9" stroke-dasharray="3.2,2.3" stroke-linecap="butt"/>
<line x1="614.50" y1="175.90" x2="614.50" y2="339.00" stroke="#cfa9f6" stroke-width="0.9" stroke-dasharray="3.2,2.3" stroke-linecap="butt"/>
<path d="M472.60,320.00 C472.92,318.17 473.82,313.13 474.50,309.00 C475.18,304.87 475.60,304.10 476.70,295.20 C477.80,286.30 479.63,267.80 481.10,255.60 C482.57,243.40 484.28,229.07 485.50,222.00 C486.72,214.93 487.42,213.45 488.40,213.20 C489.38,212.95 490.42,215.87 491.40,220.50 C492.38,225.13 493.33,233.43 494.30,241.00 C495.27,248.57 496.23,257.60 497.20,265.90 C498.17,274.20 499.12,283.23 500.10,290.80 C501.08,298.37 501.87,305.68 503.10,311.30 C504.33,316.92 505.80,321.08 507.50,324.50 C509.20,327.92 511.35,330.30 513.30,331.80 C515.25,333.30 517.25,334.00 519.20,333.50 C521.15,333.00 523.05,330.67 525.00,328.80 C526.95,326.93 529.18,323.95 530.90,322.30 C532.62,320.65 533.60,319.03 535.30,318.90 C537.00,318.77 539.15,320.57 541.10,321.50 C543.05,322.43 544.80,324.30 547.00,324.50 C549.20,324.70 552.10,322.47 554.30,322.70 C556.50,322.93 558.38,324.27 560.20,325.90 C562.02,327.53 563.63,330.38 565.20,332.50 C566.77,334.62 566.07,337.55 569.60,338.60 C573.13,339.65 582.50,339.33 586.40,338.80 C590.30,338.27 590.82,336.48 593.00,335.40 C595.18,334.32 597.33,332.42 599.50,332.30 C601.67,332.18 603.68,333.65 606.00,334.70 C608.32,335.75 606.07,337.90 613.40,338.60 C620.73,339.30 643.90,338.85 650.00,338.90" fill="none" stroke="#e0606a" stroke-width="1.0" stroke-linejoin="round" stroke-linecap="round" />
<path d="M472.60,320.00 C472.92,318.50 473.82,314.40 474.50,311.00 C475.18,307.60 475.60,307.12 476.70,299.60 C477.80,292.08 479.63,274.68 481.10,265.90 C482.57,257.12 484.40,250.80 485.50,246.90 C486.60,243.00 486.85,242.27 487.70,242.50 C488.55,242.73 489.50,243.92 490.60,248.30 C491.70,252.68 492.95,260.98 494.30,268.80 C495.65,276.62 497.23,287.15 498.70,295.20 C500.17,303.25 501.40,311.50 503.10,317.10 C504.80,322.70 506.72,325.98 508.90,328.80 C511.08,331.62 513.75,333.63 516.20,334.00 C518.65,334.37 520.92,332.58 523.60,331.00 C526.28,329.42 529.38,326.13 532.30,324.50 C535.22,322.87 538.40,321.20 541.10,321.20 C543.80,321.20 546.30,322.73 548.50,324.50 C550.70,326.27 552.60,329.45 554.30,331.80 C556.00,334.15 553.35,337.43 558.70,338.60 C564.05,339.77 580.68,339.23 586.40,338.80 C592.12,338.37 590.82,336.83 593.00,336.00 C595.18,335.17 597.33,333.88 599.50,333.80 C601.67,333.72 603.68,334.70 606.00,335.50 C608.32,336.30 606.07,338.03 613.40,338.60 C620.73,339.17 643.90,338.85 650.00,338.90" fill="none" stroke="#9ee0f2" stroke-width="1.0" stroke-linejoin="round" stroke-linecap="round" />
<path d="M472.60,320.00 C472.92,319.00 473.82,316.43 474.50,314.00 C475.18,311.57 475.60,310.73 476.70,305.40 C477.80,300.07 479.63,288.35 481.10,282.00 C482.57,275.65 484.35,270.10 485.50,267.30 C486.65,264.50 487.02,264.70 488.00,265.20 C488.98,265.70 490.12,266.53 491.40,270.30 C492.68,274.07 494.25,281.70 495.70,287.80 C497.15,293.90 498.63,301.28 500.10,306.90 C501.57,312.52 502.78,317.35 504.50,321.50 C506.22,325.65 508.45,329.23 510.40,331.80 C512.35,334.37 514.00,336.78 516.20,336.90 C518.40,337.02 520.92,334.22 523.60,332.50 C526.28,330.78 529.87,327.22 532.30,326.60 C534.73,325.98 535.75,327.82 538.20,328.80 C540.65,329.78 544.07,331.57 547.00,332.50 C549.93,333.43 553.30,334.18 555.80,334.40 C558.30,334.62 559.95,334.00 562.00,333.80 C564.05,333.60 566.10,332.82 568.10,333.20 C570.10,333.58 572.28,335.20 574.00,336.10 C575.72,337.00 576.33,338.15 578.40,338.60 C580.47,339.05 583.97,339.20 586.40,338.80 C588.83,338.40 590.93,337.03 593.00,336.20 C595.07,335.37 596.63,333.87 598.80,333.80 C600.97,333.73 603.57,335.00 606.00,335.80 C608.43,336.60 606.07,338.08 613.40,338.60 C620.73,339.12 643.90,338.85 650.00,338.90" fill="none" stroke="#8a9a2c" stroke-width="1.0" stroke-linejoin="round" stroke-linecap="round" />
<rect x="472.30" y="175.90" width="178.00" height="163.10" fill="none" stroke="#000" stroke-width="1.4"/>
<line x1="472.30" y1="339.00" x2="472.30" y2="336.00" stroke="#000" stroke-width="1" stroke-linecap="butt"/>
<line x1="490.10" y1="339.00" x2="490.10" y2="337.20" stroke="#000" stroke-width="1" stroke-linecap="butt"/>
<line x1="507.90" y1="339.00" x2="507.90" y2="336.00" stroke="#000" stroke-width="1" stroke-linecap="butt"/>
<line x1="525.70" y1="339.00" x2="525.70" y2="337.20" stroke="#000" stroke-width="1" stroke-linecap="butt"/>
<line x1="543.50" y1="339.00" x2="543.50" y2="336.00" stroke="#000" stroke-width="1" stroke-linecap="butt"/>
<line x1="561.30" y1="339.00" x2="561.30" y2="337.20" stroke="#000" stroke-width="1" stroke-linecap="butt"/>
<line x1="579.10" y1="339.00" x2="579.10" y2="336.00" stroke="#000" stroke-width="1" stroke-linecap="butt"/>
<line x1="596.90" y1="339.00" x2="596.90" y2="337.20" stroke="#000" stroke-width="1" stroke-linecap="butt"/>
<line x1="614.70" y1="339.00" x2="614.70" y2="336.00" stroke="#000" stroke-width="1" stroke-linecap="butt"/>
<line x1="632.50" y1="339.00" x2="632.50" y2="337.20" stroke="#000" stroke-width="1" stroke-linecap="butt"/>
<line x1="650.30" y1="339.00" x2="650.30" y2="336.00" stroke="#000" stroke-width="1" stroke-linecap="butt"/>
<text x="472.30" y="350.55" font-size="8.2" font-weight="bold" text-anchor="middle" fill="#000" textLength="4.15" lengthAdjust="spacingAndGlyphs">0</text>
<text x="507.90" y="350.55" font-size="8.2" font-weight="bold" text-anchor="middle" fill="#000" textLength="8.30" lengthAdjust="spacingAndGlyphs">10</text>
<text x="543.50" y="350.55" font-size="8.2" font-weight="bold" text-anchor="middle" fill="#000" textLength="8.30" lengthAdjust="spacingAndGlyphs">20</text>
<text x="579.10" y="350.55" font-size="8.2" font-weight="bold" text-anchor="middle" fill="#000" textLength="8.30" lengthAdjust="spacingAndGlyphs">30</text>
<text x="614.70" y="350.55" font-size="8.2" font-weight="bold" text-anchor="middle" fill="#000" textLength="8.30" lengthAdjust="spacingAndGlyphs">40</text>
<text x="650.30" y="350.55" font-size="8.2" font-weight="bold" text-anchor="middle" fill="#000" textLength="8.30" lengthAdjust="spacingAndGlyphs">50</text>
<line x1="472.30" y1="339.00" x2="472.30" y2="339.00" stroke="#000" stroke-width="1" stroke-linecap="butt"/>
<line x1="472.30" y1="318.61" x2="472.30" y2="318.61" stroke="#000" stroke-width="1" stroke-linecap="butt"/>
<line x1="472.30" y1="298.23" x2="472.30" y2="298.23" stroke="#000" stroke-width="1" stroke-linecap="butt"/>
<line x1="472.30" y1="277.84" x2="472.30" y2="277.84" stroke="#000" stroke-width="1" stroke-linecap="butt"/>
<line x1="472.30" y1="257.45" x2="472.30" y2="257.45" stroke="#000" stroke-width="1" stroke-linecap="butt"/>
<line x1="472.30" y1="237.06" x2="472.30" y2="237.06" stroke="#000" stroke-width="1" stroke-linecap="butt"/>
<line x1="472.30" y1="216.68" x2="472.30" y2="216.68" stroke="#000" stroke-width="1" stroke-linecap="butt"/>
<line x1="472.30" y1="196.29" x2="472.30" y2="196.29" stroke="#000" stroke-width="1" stroke-linecap="butt"/>
<line x1="472.30" y1="175.90" x2="472.30" y2="175.90" stroke="#000" stroke-width="1" stroke-linecap="butt"/>
<text x="467.80" y="341.25" font-size="8.2" font-weight="bold" text-anchor="end" fill="#000" textLength="4.15" lengthAdjust="spacingAndGlyphs">0</text>
<text x="467.80" y="320.86" font-size="8.2" font-weight="bold" text-anchor="end" fill="#000" textLength="4.15" lengthAdjust="spacingAndGlyphs">2</text>
<text x="467.80" y="300.48" font-size="8.2" font-weight="bold" text-anchor="end" fill="#000" textLength="4.15" lengthAdjust="spacingAndGlyphs">4</text>
<text x="467.80" y="280.09" font-size="8.2" font-weight="bold" text-anchor="end" fill="#000" textLength="4.15" lengthAdjust="spacingAndGlyphs">6</text>
<text x="467.80" y="259.70" font-size="8.2" font-weight="bold" text-anchor="end" fill="#000" textLength="4.15" lengthAdjust="spacingAndGlyphs">8</text>
<text x="467.80" y="239.31" font-size="8.2" font-weight="bold" text-anchor="end" fill="#000" textLength="8.30" lengthAdjust="spacingAndGlyphs">10</text>
<text x="467.80" y="218.93" font-size="8.2" font-weight="bold" text-anchor="end" fill="#000" textLength="8.30" lengthAdjust="spacingAndGlyphs">12</text>
<text x="467.80" y="198.54" font-size="8.2" font-weight="bold" text-anchor="end" fill="#000" textLength="8.30" lengthAdjust="spacingAndGlyphs">14</text>
<text x="467.80" y="178.15" font-size="8.2" font-weight="bold" text-anchor="end" fill="#000" textLength="8.30" lengthAdjust="spacingAndGlyphs">16</text>
<text x="561.30" y="366.02" font-size="9.5" font-weight="bold" text-anchor="middle" fill="#000" textLength="77.50" lengthAdjust="spacingAndGlyphs">Frequency (THz)</text>
<text x="452.20" y="258.40" font-size="10" font-weight="bold" text-anchor="middle" fill="#000" transform="rotate(-90 452.20 254.80)">G (MW·m<tspan font-size="6.5" dy="-3.5">-2</tspan><tspan dy="3.5">·K</tspan><tspan font-size="6.5" dy="-3.5">-1</tspan><tspan dy="3.5">)</tspan></text>
<rect x="553.90" y="179.00" width="87.20" height="31.90" fill="#fff" stroke="#999" stroke-width="0.7" />
<line x1="554.90" y1="184.30" x2="573.70" y2="184.30" stroke="#e0606a" stroke-width="1.1" stroke-linecap="butt"/>
<text x="575.90" y="187.61" font-size="9.2" font-weight="bold" text-anchor="start" fill="#000" textLength="64.30" lengthAdjust="spacingAndGlyphs">Cu(100)/Dia(100)</text>
<line x1="554.90" y1="194.80" x2="573.70" y2="194.80" stroke="#9ee0f2" stroke-width="1.1" stroke-linecap="butt"/>
<text x="575.90" y="198.11" font-size="9.2" font-weight="bold" text-anchor="start" fill="#000" textLength="64.30" lengthAdjust="spacingAndGlyphs">Cu(100)/Dia(110)</text>
<line x1="554.90" y1="205.30" x2="573.70" y2="205.30" stroke="#8a9a2c" stroke-width="1.1" stroke-linecap="butt"/>
<text x="575.90" y="208.61" font-size="9.2" font-weight="bold" text-anchor="start" fill="#000" textLength="64.30" lengthAdjust="spacingAndGlyphs">Cu(100)/Dia(111)</text>
<text x="509.8" y="198.8" font-size="10" font-weight="bold" fill="#000">ω<tspan font-size="5.5" font-weight="bold" dy="2">Peak</tspan></text>
<line x1="510.00" y1="200.50" x2="493.34" y2="205.64" stroke="#000" stroke-width="0.8" stroke-linecap="butt"/>
<polygon points="489.90,206.70 492.86,204.09 493.82,207.19" fill="#000" stroke="none" stroke-width="1" stroke-linejoin="round" />
<text x="509.5" y="267" font-size="10" font-weight="bold" fill="#e8c050">ω<tspan font-size="6" font-weight="normal" dy="1.8">1</tspan></text>
<line x1="513.30" y1="268.80" x2="506.96" y2="274.06" stroke="#e8c050" stroke-width="0.8" stroke-linecap="butt"/>
<polygon points="504.50,276.10 506.04,272.95 507.88,275.17" fill="#e8c050" stroke="none" stroke-width="1" stroke-linejoin="round" />
<text x="596.8" y="304" font-size="10" font-weight="bold" fill="#c49af2">ω<tspan font-size="6" font-weight="normal" dy="1.8">2</tspan></text>
<line x1="598.80" y1="309.90" x2="595.84" y2="315.74" stroke="#c49af2" stroke-width="0.8" stroke-linecap="butt"/>
<polygon points="594.40,318.60 594.56,315.09 597.13,316.39" fill="#c49af2" stroke="none" stroke-width="1" stroke-linejoin="round" />
<text x="624.3" y="234.5" font-size="10" font-weight="bold" fill="#c49af2">ω<tspan font-size="7" font-weight="normal" dy="2.5">max</tspan></text>
<line x1="627.10" y1="240.70" x2="617.77" y2="244.42" stroke="#c49af2" stroke-width="0.8" stroke-linecap="butt"/>
<polygon points="614.80,245.60 617.24,243.08 618.31,245.75" fill="#c49af2" stroke="none" stroke-width="1" stroke-linejoin="round" />
<text x="1.80" y="389.00" font-size="20.5" font-weight="bold" fill="#000">f</text>
<rect x="50.30" y="429.10" width="35.50" height="107.10" fill="#d49cf8" stroke="none" stroke-width="1" />
<rect x="50.30" y="380.40" width="35.50" height="48.70" fill="#a2e6fa" stroke="none" stroke-width="1" />
<rect x="50.30" y="373.40" width="35.50" height="7.00" fill="#e2b98c" stroke="none" stroke-width="1" />
<rect x="109.10" y="424.90" width="35.60" height="111.30" fill="#d49cf8" stroke="none" stroke-width="1" />
<rect x="109.10" y="381.10" width="35.60" height="43.80" fill="#a2e6fa" stroke="none" stroke-width="1" />
<rect x="109.10" y="373.40" width="35.60" height="7.70" fill="#e2b98c" stroke="none" stroke-width="1" />
<rect x="167.80" y="433.00" width="35.60" height="103.20" fill="#d49cf8" stroke="none" stroke-width="1" />
<rect x="167.80" y="382.50" width="35.60" height="50.50" fill="#a2e6fa" stroke="none" stroke-width="1" />
<rect x="167.80" y="373.40" width="35.60" height="9.10" fill="#e2b98c" stroke="none" stroke-width="1" />
<polyline points="67.40,529.60 126.10,530.40 184.80,530.40" fill="none" stroke="#c8e4f8" stroke-width="1.3" stroke-linejoin="round" />
<circle cx="67.4" cy="529.6" r="3" fill="#c8e4f8"/>
<circle cx="126.1" cy="530.4" r="3" fill="#c8e4f8"/>
<circle cx="184.8" cy="530.4" r="3" fill="#c8e4f8"/>
<polyline points="67.40,481.50 126.10,497.50 184.80,500.00" fill="none" stroke="#ec5a5e" stroke-width="1.3" stroke-linejoin="round" />
<circle cx="67.4" cy="481.5" r="3" fill="#ec5a5e"/>
<circle cx="126.1" cy="497.5" r="3" fill="#ec5a5e"/>
<circle cx="184.8" cy="500.0" r="3" fill="#ec5a5e"/>
<polyline points="67.40,414.60 126.30,440.70 185.00,460.50" fill="none" stroke="#000" stroke-width="1.3" stroke-linejoin="round" />
<circle cx="67.4" cy="414.6" r="3.2" fill="#000"/>
<circle cx="126.3" cy="440.7" r="3.2" fill="#000"/>
<circle cx="185.0" cy="460.5" r="3.2" fill="#000"/>
<text x="68.00" y="381.20" font-size="10.0" font-weight="bold" text-anchor="middle" fill="#000" textLength="14.00" lengthAdjust="spacingAndGlyphs">4%</text>
<text x="68.00" y="408.47" font-size="10.2" font-weight="bold" text-anchor="middle" fill="#000" textLength="18.60" lengthAdjust="spacingAndGlyphs">30%</text>
<text x="68.00" y="477.37" font-size="10.2" font-weight="bold" text-anchor="middle" fill="#000" textLength="18.60" lengthAdjust="spacingAndGlyphs">66%</text>
<text x="126.70" y="381.50" font-size="10.0" font-weight="bold" text-anchor="middle" fill="#000" textLength="14.00" lengthAdjust="spacingAndGlyphs">4%</text>
<text x="126.70" y="406.87" font-size="10.2" font-weight="bold" text-anchor="middle" fill="#000" textLength="18.60" lengthAdjust="spacingAndGlyphs">27%</text>
<text x="126.70" y="475.27" font-size="10.2" font-weight="bold" text-anchor="middle" fill="#000" textLength="18.60" lengthAdjust="spacingAndGlyphs">69%</text>
<text x="185.40" y="381.90" font-size="10.0" font-weight="bold" text-anchor="middle" fill="#000" textLength="14.00" lengthAdjust="spacingAndGlyphs">5%</text>
<text x="185.40" y="411.57" font-size="10.2" font-weight="bold" text-anchor="middle" fill="#000" textLength="18.60" lengthAdjust="spacingAndGlyphs">31%</text>
<text x="185.40" y="478.87" font-size="10.2" font-weight="bold" text-anchor="middle" fill="#000" textLength="18.60" lengthAdjust="spacingAndGlyphs">64%</text>
<rect x="38.50" y="373.40" width="176.50" height="162.80" fill="none" stroke="#000" stroke-width="1.4"/>
<line x1="67.40" y1="536.20" x2="67.40" y2="533.20" stroke="#000" stroke-width="1" stroke-linecap="butt"/>
<line x1="126.40" y1="536.20" x2="126.40" y2="533.20" stroke="#000" stroke-width="1" stroke-linecap="butt"/>
<line x1="185.40" y1="536.20" x2="185.40" y2="533.20" stroke="#000" stroke-width="1" stroke-linecap="butt"/>
<line x1="97.20" y1="536.20" x2="97.20" y2="534.40" stroke="#000" stroke-width="1" stroke-linecap="butt"/>
<line x1="156.00" y1="536.20" x2="156.00" y2="534.40" stroke="#000" stroke-width="1" stroke-linecap="butt"/>
<text x="34.20" y="538.88" font-size="8.0" font-weight="normal" text-anchor="end" fill="#000" textLength="4.40" lengthAdjust="spacingAndGlyphs">0</text>
<text x="34.20" y="498.18" font-size="8.0" font-weight="normal" text-anchor="end" fill="#000" textLength="8.80" lengthAdjust="spacingAndGlyphs">20</text>
<text x="34.20" y="457.48" font-size="8.0" font-weight="normal" text-anchor="end" fill="#000" textLength="8.80" lengthAdjust="spacingAndGlyphs">40</text>
<text x="34.20" y="416.78" font-size="8.0" font-weight="normal" text-anchor="end" fill="#000" textLength="8.80" lengthAdjust="spacingAndGlyphs">60</text>
<text x="34.20" y="376.08" font-size="8.0" font-weight="normal" text-anchor="end" fill="#000" textLength="8.80" lengthAdjust="spacingAndGlyphs">80</text>
<text x="67.70" y="546.39" font-size="7.2" font-weight="bold" text-anchor="middle" fill="#000" textLength="56.00" lengthAdjust="spacingAndGlyphs">Cu(100)/Dia(100)</text>
<text x="126.30" y="546.39" font-size="7.2" font-weight="bold" text-anchor="middle" fill="#000" textLength="56.00" lengthAdjust="spacingAndGlyphs">Cu(100)/Dia(110)</text>
<text x="185.20" y="546.39" font-size="7.2" font-weight="bold" text-anchor="middle" fill="#000" textLength="56.00" lengthAdjust="spacingAndGlyphs">Cu(100)/Dia(111)</text>
<text x="126.30" y="559.60" font-size="10" font-weight="bold" text-anchor="middle" fill="#000" textLength="63.80" lengthAdjust="spacingAndGlyphs">Interface type</text>
<text x="18.20" y="451.60" font-size="10" font-weight="bold" text-anchor="middle" fill="#000" transform="rotate(-90 18.20 448.00)">G (MW·m<tspan font-size="6.5" dy="-3.5">-2</tspan><tspan dy="3.5">·K</tspan><tspan font-size="6.5" dy="-3.5">-1</tspan><tspan dy="3.5">)</tspan></text>
<line x1="37.40" y1="570.70" x2="56.30" y2="570.70" stroke="#000" stroke-width="1.3" stroke-linecap="butt"/>
<circle cx="47.1" cy="570.7" r="3" fill="#000"/>
<text x="58.90" y="573.69" font-size="8.3" font-weight="bold" text-anchor="start" fill="#000" textLength="144.50" lengthAdjust="spacingAndGlyphs">Cumulative ITC contribution by LFPM</text>
<line x1="37.40" y1="580.80" x2="56.30" y2="580.80" stroke="#ec5a5e" stroke-width="1.3" stroke-linecap="butt"/>
<circle cx="47.1" cy="580.8000000000001" r="3" fill="#ec5a5e"/>
<text x="58.90" y="583.79" font-size="8.3" font-weight="bold" text-anchor="start" fill="#000" textLength="144.50" lengthAdjust="spacingAndGlyphs">Cumulative ITC contribution by MFPM</text>
<line x1="37.40" y1="590.90" x2="56.30" y2="590.90" stroke="#c8e4f8" stroke-width="1.3" stroke-linecap="butt"/>
<circle cx="47.1" cy="590.9000000000001" r="3" fill="#c8e4f8"/>
<text x="58.90" y="593.89" font-size="8.3" font-weight="bold" text-anchor="start" fill="#000" textLength="144.50" lengthAdjust="spacingAndGlyphs">Cumulative ITC contribution by HFPM</text>
<rect x="37.40" y="596.00" width="18.90" height="9.40" fill="#d49cf8" stroke="none" stroke-width="1" />
<text x="58.90" y="603.59" font-size="8.3" font-weight="bold" text-anchor="start" fill="#000" textLength="121.30" lengthAdjust="spacingAndGlyphs">Contribution of LFPM to ITC</text>
<rect x="37.40" y="606.00" width="18.90" height="9.40" fill="#a2e6fa" stroke="none" stroke-width="1" />
<text x="58.90" y="613.59" font-size="8.3" font-weight="bold" text-anchor="start" fill="#000" textLength="122.90" lengthAdjust="spacingAndGlyphs">Contribution of MFPM to ITC</text>
<rect x="37.40" y="616.00" width="18.90" height="9.40" fill="#e2b98c" stroke="none" stroke-width="1" />
<text x="58.90" y="623.59" font-size="8.3" font-weight="bold" text-anchor="start" fill="#000" textLength="122.40" lengthAdjust="spacingAndGlyphs">Contribution of HFPM to ITC</text>
<text x="229.60" y="400.00" font-size="20.5" font-weight="bold" fill="#000">g</text>
<polygon points="258.50,538.30 258.50,461.50 271.60,439.70 297.60,439.70 284.50,461.50 284.50,538.30" fill="#cbcbcb" stroke="none" stroke-width="1" stroke-linejoin="round" />
<polygon points="284.50,538.30 284.50,461.50 297.60,439.70 323.70,439.70 323.70,516.50 310.60,538.30" fill="#f4d2d5" stroke="none" stroke-width="1" stroke-linejoin="round" />
<polygon points="297.60,439.70 323.70,439.70 310.60,461.50 310.60,538.30 284.50,538.30 297.60,516.50" fill="#eebdc1" stroke="none" stroke-width="1" stroke-linejoin="round" />
<line x1="271.60" y1="439.70" x2="271.60" y2="516.50" stroke="#333" stroke-width="0.9" stroke-dasharray="3.4,2.2" stroke-linecap="butt"/>
<line x1="258.50" y1="538.30" x2="271.60" y2="516.50" stroke="#333" stroke-width="0.9" stroke-dasharray="3.4,2.2" stroke-linecap="butt"/>
<line x1="297.60" y1="439.70" x2="297.60" y2="516.50" stroke="#333" stroke-width="0.9" stroke-dasharray="3.4,2.2" stroke-linecap="butt"/>
<line x1="284.50" y1="538.30" x2="297.60" y2="516.50" stroke="#333" stroke-width="0.9" stroke-dasharray="3.4,2.2" stroke-linecap="butt"/>
<line x1="323.70" y1="439.70" x2="323.70" y2="516.50" stroke="#333" stroke-width="0.9" stroke-dasharray="3.4,2.2" stroke-linecap="butt"/>
<line x1="310.60" y1="538.30" x2="323.70" y2="516.50" stroke="#333" stroke-width="0.9" stroke-dasharray="3.4,2.2" stroke-linecap="butt"/>
<line x1="348.60" y1="439.70" x2="348.60" y2="516.50" stroke="#333" stroke-width="0.9" stroke-dasharray="3.4,2.2" stroke-linecap="butt"/>
<line x1="335.50" y1="538.30" x2="348.60" y2="516.50" stroke="#333" stroke-width="0.9" stroke-dasharray="3.4,2.2" stroke-linecap="butt"/>
<line x1="271.60" y1="516.50" x2="348.60" y2="516.50" stroke="#333" stroke-width="0.9" stroke-dasharray="3.4,2.2" stroke-linecap="butt"/>
<line x1="258.50" y1="461.50" x2="258.50" y2="538.30" stroke="#333" stroke-width="0.9" stroke-linecap="butt"/>
<line x1="284.50" y1="461.50" x2="284.50" y2="538.30" stroke="#333" stroke-width="0.9" stroke-linecap="butt"/>
<line x1="310.60" y1="461.50" x2="310.60" y2="538.30" stroke="#333" stroke-width="0.9" stroke-linecap="butt"/>
<line x1="335.50" y1="461.50" x2="335.50" y2="538.30" stroke="#333" stroke-width="0.9" stroke-linecap="butt"/>
<line x1="258.50" y1="461.50" x2="335.50" y2="461.50" stroke="#333" stroke-width="0.9" stroke-linecap="butt"/>
<line x1="258.50" y1="538.30" x2="335.50" y2="538.30" stroke="#333" stroke-width="0.9" stroke-linecap="butt"/>
<line x1="271.60" y1="439.70" x2="348.60" y2="439.70" stroke="#333" stroke-width="0.9" stroke-linecap="butt"/>
<line x1="258.50" y1="461.50" x2="271.60" y2="439.70" stroke="#333" stroke-width="0.9" stroke-linecap="butt"/>
<line x1="284.50" y1="461.50" x2="297.60" y2="439.70" stroke="#333" stroke-width="0.9" stroke-linecap="butt"/>
<line x1="310.60" y1="461.50" x2="323.70" y2="439.70" stroke="#333" stroke-width="0.9" stroke-linecap="butt"/>
<line x1="335.50" y1="461.50" x2="348.60" y2="439.70" stroke="#333" stroke-width="0.9" stroke-linecap="butt"/>
<polygon points="394.18,538.30 394.18,461.50 407.28,439.10 509.20,439.10 496.10,461.50 496.10,538.30" fill="#f6f3df" stroke="none" stroke-width="1" stroke-linejoin="round" />
<line x1="381.80" y1="439.10" x2="381.80" y2="515.90" stroke="#333" stroke-width="0.9" stroke-dasharray="3.4,2.2" stroke-linecap="butt"/>
<line x1="368.70" y1="538.30" x2="381.80" y2="515.90" stroke="#333" stroke-width="0.9" stroke-dasharray="3.4,2.2" stroke-linecap="butt"/>
<line x1="407.28" y1="439.10" x2="407.28" y2="515.90" stroke="#333" stroke-width="0.9" stroke-dasharray="3.4,2.2" stroke-linecap="butt"/>
<line x1="394.18" y1="538.30" x2="407.28" y2="515.90" stroke="#333" stroke-width="0.9" stroke-dasharray="3.4,2.2" stroke-linecap="butt"/>
<line x1="432.76" y1="439.10" x2="432.76" y2="515.90" stroke="#333" stroke-width="0.9" stroke-dasharray="3.4,2.2" stroke-linecap="butt"/>
<line x1="419.66" y1="538.30" x2="432.76" y2="515.90" stroke="#333" stroke-width="0.9" stroke-dasharray="3.4,2.2" stroke-linecap="butt"/>
<line x1="458.24" y1="439.10" x2="458.24" y2="515.90" stroke="#333" stroke-width="0.9" stroke-dasharray="3.4,2.2" stroke-linecap="butt"/>
<line x1="445.14" y1="538.30" x2="458.24" y2="515.90" stroke="#333" stroke-width="0.9" stroke-dasharray="3.4,2.2" stroke-linecap="butt"/>
<line x1="483.72" y1="439.10" x2="483.72" y2="515.90" stroke="#333" stroke-width="0.9" stroke-dasharray="3.4,2.2" stroke-linecap="butt"/>
<line x1="470.62" y1="538.30" x2="483.72" y2="515.90" stroke="#333" stroke-width="0.9" stroke-dasharray="3.4,2.2" stroke-linecap="butt"/>
<line x1="509.20" y1="439.10" x2="509.20" y2="515.90" stroke="#333" stroke-width="0.9" stroke-dasharray="3.4,2.2" stroke-linecap="butt"/>
<line x1="496.10" y1="538.30" x2="509.20" y2="515.90" stroke="#333" stroke-width="0.9" stroke-dasharray="3.4,2.2" stroke-linecap="butt"/>
<line x1="534.68" y1="439.10" x2="534.68" y2="515.90" stroke="#333" stroke-width="0.9" stroke-dasharray="3.4,2.2" stroke-linecap="butt"/>
<line x1="521.58" y1="538.30" x2="534.68" y2="515.90" stroke="#333" stroke-width="0.9" stroke-dasharray="3.4,2.2" stroke-linecap="butt"/>
<line x1="381.80" y1="515.90" x2="534.68" y2="515.90" stroke="#333" stroke-width="0.9" stroke-dasharray="3.4,2.2" stroke-linecap="butt"/>
<line x1="368.70" y1="461.50" x2="368.70" y2="538.30" stroke="#333" stroke-width="0.9" stroke-linecap="butt"/>
<line x1="394.18" y1="461.50" x2="394.18" y2="538.30" stroke="#333" stroke-width="0.9" stroke-linecap="butt"/>
<line x1="419.66" y1="461.50" x2="419.66" y2="538.30" stroke="#333" stroke-width="0.9" stroke-linecap="butt"/>
<line x1="445.14" y1="461.50" x2="445.14" y2="538.30" stroke="#333" stroke-width="0.9" stroke-linecap="butt"/>
<line x1="470.62" y1="461.50" x2="470.62" y2="538.30" stroke="#333" stroke-width="0.9" stroke-linecap="butt"/>
<line x1="496.10" y1="461.50" x2="496.10" y2="538.30" stroke="#333" stroke-width="0.9" stroke-linecap="butt"/>
<line x1="521.58" y1="461.50" x2="521.58" y2="538.30" stroke="#333" stroke-width="0.9" stroke-linecap="butt"/>
<line x1="368.70" y1="461.50" x2="521.58" y2="461.50" stroke="#333" stroke-width="0.9" stroke-linecap="butt"/>
<line x1="368.70" y1="538.30" x2="521.58" y2="538.30" stroke="#333" stroke-width="0.9" stroke-linecap="butt"/>
<line x1="381.80" y1="439.10" x2="534.68" y2="439.10" stroke="#333" stroke-width="0.9" stroke-linecap="butt"/>
<line x1="368.70" y1="461.50" x2="381.80" y2="439.10" stroke="#333" stroke-width="0.9" stroke-linecap="butt"/>
<line x1="394.18" y1="461.50" x2="407.28" y2="439.10" stroke="#333" stroke-width="0.9" stroke-linecap="butt"/>
<line x1="419.66" y1="461.50" x2="432.76" y2="439.10" stroke="#333" stroke-width="0.9" stroke-linecap="butt"/>
<line x1="445.14" y1="461.50" x2="458.24" y2="439.10" stroke="#333" stroke-width="0.9" stroke-linecap="butt"/>
<line x1="470.62" y1="461.50" x2="483.72" y2="439.10" stroke="#333" stroke-width="0.9" stroke-linecap="butt"/>
<line x1="496.10" y1="461.50" x2="509.20" y2="439.10" stroke="#333" stroke-width="0.9" stroke-linecap="butt"/>
<line x1="521.58" y1="461.50" x2="534.68" y2="439.10" stroke="#333" stroke-width="0.9" stroke-linecap="butt"/>
<polygon points="581.50,538.30 581.50,461.50 594.60,439.70 620.90,439.70 620.90,516.50 607.80,538.30" fill="#d8f2f0" stroke="none" stroke-width="1" stroke-linejoin="round" />
<polygon points="581.50,461.50 594.60,439.70 620.90,439.70 607.80,461.50" fill="#e6f7f6" stroke="none" stroke-width="1" stroke-linejoin="round" />
<polygon points="607.80,461.50 620.90,439.70 645.10,439.70 632.00,461.50" fill="#a5a5a5" stroke="none" stroke-width="1" stroke-linejoin="round" />
<polygon points="632.00,461.50 645.10,439.70 645.10,516.50 632.00,538.30" fill="#cdcdcd" stroke="none" stroke-width="1" stroke-linejoin="round" />
<rect x="607.80" y="461.50" width="24.20" height="76.80" fill="#acacac" stroke="none" stroke-width="1" />
<polygon points="607.80,461.50 620.90,461.50 620.90,516.50 607.80,538.30" fill="#b7c3c3" stroke="none" stroke-width="1" stroke-linejoin="round" />
<line x1="568.40" y1="439.70" x2="568.40" y2="516.50" stroke="#333" stroke-width="0.9" stroke-dasharray="3.4,2.2" stroke-linecap="butt"/>
<line x1="555.30" y1="538.30" x2="568.40" y2="516.50" stroke="#333" stroke-width="0.9" stroke-dasharray="3.4,2.2" stroke-linecap="butt"/>
<line x1="594.60" y1="439.70" x2="594.60" y2="516.50" stroke="#333" stroke-width="0.9" stroke-dasharray="3.4,2.2" stroke-linecap="butt"/>
<line x1="581.50" y1="538.30" x2="594.60" y2="516.50" stroke="#333" stroke-width="0.9" stroke-dasharray="3.4,2.2" stroke-linecap="butt"/>
<line x1="620.90" y1="439.70" x2="620.90" y2="516.50" stroke="#333" stroke-width="0.9" stroke-dasharray="3.4,2.2" stroke-linecap="butt"/>
<line x1="607.80" y1="538.30" x2="620.90" y2="516.50" stroke="#333" stroke-width="0.9" stroke-dasharray="3.4,2.2" stroke-linecap="butt"/>
<line x1="568.40" y1="516.50" x2="645.10" y2="516.50" stroke="#333" stroke-width="0.9" stroke-dasharray="3.4,2.2" stroke-linecap="butt"/>
<line x1="555.30" y1="461.50" x2="555.30" y2="538.30" stroke="#333" stroke-width="0.9" stroke-linecap="butt"/>
<line x1="581.50" y1="461.50" x2="581.50" y2="538.30" stroke="#333" stroke-width="0.9" stroke-linecap="butt"/>
<line x1="607.80" y1="461.50" x2="607.80" y2="538.30" stroke="#333" stroke-width="0.9" stroke-linecap="butt"/>
<line x1="632.00" y1="461.50" x2="632.00" y2="538.30" stroke="#333" stroke-width="0.9" stroke-linecap="butt"/>
<line x1="555.30" y1="461.50" x2="632.00" y2="461.50" stroke="#333" stroke-width="0.9" stroke-linecap="butt"/>
<line x1="555.30" y1="538.30" x2="632.00" y2="538.30" stroke="#333" stroke-width="0.9" stroke-linecap="butt"/>
<line x1="568.40" y1="439.70" x2="645.10" y2="439.70" stroke="#333" stroke-width="0.9" stroke-linecap="butt"/>
<line x1="555.30" y1="461.50" x2="568.40" y2="439.70" stroke="#333" stroke-width="0.9" stroke-linecap="butt"/>
<line x1="581.50" y1="461.50" x2="594.60" y2="439.70" stroke="#333" stroke-width="0.9" stroke-linecap="butt"/>
<line x1="607.80" y1="461.50" x2="620.90" y2="439.70" stroke="#333" stroke-width="0.9" stroke-linecap="butt"/>
<line x1="632.00" y1="461.50" x2="645.10" y2="439.70" stroke="#333" stroke-width="0.9" stroke-linecap="butt"/>
<line x1="645.10" y1="439.70" x2="645.10" y2="516.50" stroke="#333" stroke-width="0.9" stroke-linecap="butt"/>
<line x1="632.00" y1="538.30" x2="645.10" y2="516.50" stroke="#333" stroke-width="0.9" stroke-linecap="butt"/>
<text x="261.40" y="435.12" font-size="10.6" font-weight="bold" text-anchor="start" fill="#000" textLength="27.40" lengthAdjust="spacingAndGlyphs">Fixed</text>
<text x="295.50" y="435.12" font-size="10.6" font-weight="bold" text-anchor="start" fill="#e87a82" textLength="61.30" lengthAdjust="spacingAndGlyphs">Heat source</text>
<text x="418.50" y="432.52" font-size="10.6" font-weight="bold" text-anchor="start" fill="#e38b45" textLength="80.90" lengthAdjust="spacingAndGlyphs">Interface region</text>
<text x="579.30" y="437.22" font-size="10.6" font-weight="bold" text-anchor="start" fill="#6ea8da" textLength="47.30" lengthAdjust="spacingAndGlyphs">Heat sink</text>
<text x="631.20" y="437.22" font-size="10.6" font-weight="bold" text-anchor="start" fill="#000" textLength="27.30" lengthAdjust="spacingAndGlyphs">Fixed</text>
<circle cx="352.90" cy="493.2" r="0.75" fill="#222"/>
<circle cx="355.80" cy="493.2" r="0.75" fill="#222"/>
<circle cx="358.70" cy="493.2" r="0.75" fill="#222"/>
<circle cx="544.40" cy="493.2" r="0.75" fill="#222"/>
<circle cx="547.30" cy="493.2" r="0.75" fill="#222"/>
<circle cx="550.20" cy="493.2" r="0.75" fill="#222"/>
<line x1="243.20" y1="546.20" x2="243.20" y2="512.80" stroke="#000" stroke-width="1.4" stroke-linecap="butt"/>
<polygon points="243.20,508.30 245.22,512.80 241.17,512.80" fill="#000" stroke="none" stroke-width="1" stroke-linejoin="round" />
<line x1="243.20" y1="546.20" x2="276.30" y2="546.20" stroke="#000" stroke-width="1.4" stroke-linecap="butt"/>
<polygon points="280.80,546.20 276.30,548.23 276.30,544.18" fill="#000" stroke="none" stroke-width="1" stroke-linejoin="round" />
<circle cx="243.2" cy="546.2" r="2.1" fill="#000"/>
<text x="240.6" y="501.0" font-size="9.6" font-style="italic">y</text>
<text x="233.6" y="553.0" font-size="9.6" font-style="italic">x</text>
<text x="282.8" y="551.0" font-size="9.6" font-style="italic">z</text>
<line x1="401.70" y1="546.80" x2="410.44" y2="528.55" stroke="#000" stroke-width="1.2" stroke-linecap="butt"/>
<polygon points="412.00,525.30 411.91,529.25 408.98,527.85" fill="#000" stroke="none" stroke-width="1" stroke-linejoin="round" />
<line x1="431.40" y1="561.10" x2="435.98" y2="529.86" stroke="#000" stroke-width="1.2" stroke-linecap="butt"/>
<polygon points="436.50,526.30 437.58,530.10 434.38,529.63" fill="#000" stroke="none" stroke-width="1" stroke-linejoin="round" />
<line x1="466.80" y1="561.60" x2="463.23" y2="532.17" stroke="#000" stroke-width="1.2" stroke-linecap="butt"/>
<polygon points="462.80,528.60 464.84,531.98 461.62,532.37" fill="#000" stroke="none" stroke-width="1" stroke-linejoin="round" />
<line x1="505.00" y1="551.00" x2="487.32" y2="534.27" stroke="#000" stroke-width="1.2" stroke-linecap="butt"/>
<polygon points="484.70,531.80 488.43,533.10 486.20,535.45" fill="#000" stroke="none" stroke-width="1" stroke-linejoin="round" />
<text x="330.6" y="556.80" font-size="8" font-weight="bold" textLength="84.4" lengthAdjust="spacingAndGlyphs">Interface 2<tspan font-size="5.2" dy="-3">nd</tspan><tspan dy="3"> </tspan>group Cu</text>
<text x="350.7" y="569.50" font-size="8" font-weight="bold" textLength="83.1" lengthAdjust="spacingAndGlyphs">Interface 1<tspan font-size="5.2" dy="-3">st</tspan><tspan dy="3"> </tspan>group Cu</text>
<text x="454.9" y="570.00" font-size="8" font-weight="bold" textLength="109.2" lengthAdjust="spacingAndGlyphs">Interface&#160; 1<tspan font-size="5.2" dy="-3">st</tspan><tspan dy="3"> </tspan>group Diamond</text>
<text x="491.6" y="557.60" font-size="8" font-weight="bold" textLength="110.9" lengthAdjust="spacingAndGlyphs">Interface&#160; 2<tspan font-size="5.2" dy="-3">nd</tspan><tspan dy="3"> </tspan>group Diamond</text>
<text x="5.50" y="654.50" font-size="20.5" font-weight="bold" fill="#000">h</text>
<path d="M40.00,786.00 C41.47,785.40 46.12,784.22 48.80,782.40 C51.48,780.58 53.92,778.02 56.10,775.10 C58.28,772.18 60.08,770.00 61.90,764.90 C63.72,759.80 65.78,751.55 67.00,744.50 C68.22,737.45 68.55,729.90 69.20,722.60 C69.85,715.30 70.30,705.57 70.90,700.70 C71.50,695.83 72.17,693.40 72.80,693.40 C73.43,693.40 73.97,696.33 74.70,700.70 C75.43,705.07 76.42,714.98 77.20,719.60 C77.98,724.22 78.55,727.67 79.40,728.40 C80.25,729.13 81.32,725.33 82.30,724.00 C83.28,722.67 84.20,720.40 85.30,720.40 C86.40,720.40 87.68,721.93 88.90,724.00 C90.12,726.07 91.27,729.15 92.60,732.80 C93.93,736.45 95.45,742.02 96.90,745.90 C98.35,749.78 99.83,753.78 101.30,756.10 C102.77,758.42 104.23,758.58 105.70,759.80 C107.17,761.02 108.40,761.58 110.10,763.40 C111.80,765.22 113.72,768.13 115.90,770.70 C118.08,773.27 120.28,776.73 123.20,778.80 C126.12,780.87 129.77,782.10 133.40,783.10 C137.03,784.10 141.23,784.50 145.00,784.80 C148.77,785.10 152.67,784.78 156.00,784.90 C159.33,785.02 154.83,785.35 165.00,785.50 C175.17,785.65 208.33,785.75 217.00,785.80" fill="none" stroke="#b9d8f6" stroke-width="1.2" stroke-linejoin="round" stroke-linecap="round" />
<path d="M40.00,786.00 C41.22,785.52 44.87,785.40 47.30,783.10 C49.73,780.80 52.42,775.97 54.60,772.20 C56.78,768.43 58.58,764.40 60.40,760.50 C62.22,756.60 63.78,751.72 65.50,748.80 C67.22,745.88 69.23,746.15 70.70,743.00 C72.17,739.85 73.22,735.98 74.30,729.90 C75.38,723.82 76.35,713.32 77.20,706.50 C78.05,699.68 78.73,692.70 79.40,689.00 C80.07,685.30 80.58,684.30 81.20,684.30 C81.82,684.30 82.42,685.55 83.10,689.00 C83.78,692.45 84.45,699.40 85.30,705.00 C86.15,710.60 86.98,717.97 88.20,722.60 C89.42,727.23 91.15,729.15 92.60,732.80 C94.05,736.45 95.45,740.85 96.90,744.50 C98.35,748.15 99.83,751.78 101.30,754.70 C102.77,757.62 104.00,759.82 105.70,762.00 C107.40,764.18 109.55,765.62 111.50,767.80 C113.45,769.98 115.20,772.78 117.40,775.10 C119.60,777.42 122.03,780.23 124.70,781.70 C127.37,783.17 130.02,783.35 133.40,783.90 C136.78,784.45 141.23,784.78 145.00,785.00 C148.77,785.22 152.67,785.10 156.00,785.20 C159.33,785.30 154.83,785.50 165.00,785.60 C175.17,785.70 208.33,785.77 217.00,785.80" fill="none" stroke="#dfb27c" stroke-width="1.2" stroke-linejoin="round" stroke-linecap="round" />
<path d="M40.00,786.00 C41.22,785.65 44.87,785.10 47.30,783.90 C49.73,782.70 52.17,780.75 54.60,778.80 C57.03,776.85 59.72,774.77 61.90,772.20 C64.08,769.63 66.00,766.80 67.70,763.40 C69.40,760.00 70.63,756.67 72.10,751.80 C73.57,746.93 75.17,740.05 76.50,734.20 C77.83,728.35 79.00,721.80 80.10,716.70 C81.20,711.60 82.12,706.63 83.10,703.60 C84.08,700.57 85.03,698.27 86.00,698.50 C86.97,698.73 87.93,701.48 88.90,705.00 C89.87,708.52 90.83,714.23 91.80,719.60 C92.77,724.97 93.72,732.82 94.70,737.20 C95.68,741.58 96.60,744.33 97.70,745.90 C98.80,747.47 100.08,745.98 101.30,746.60 C102.52,747.22 103.78,749.60 105.00,749.60 C106.22,749.60 107.52,747.33 108.60,746.60 C109.68,745.87 110.52,744.83 111.50,745.20 C112.48,745.57 113.52,745.77 114.50,748.80 C115.48,751.83 116.18,759.02 117.40,763.40 C118.62,767.78 120.10,772.05 121.80,775.10 C123.50,778.15 125.42,780.23 127.60,781.70 C129.78,783.17 132.83,783.42 134.90,783.90 C136.97,784.38 137.48,784.38 140.00,784.60 C142.52,784.82 146.67,785.05 150.00,785.20 C153.33,785.35 148.83,785.40 160.00,785.50 C171.17,785.60 207.50,785.75 217.00,785.80" fill="none" stroke="#e05252" stroke-width="1.2" stroke-linejoin="round" stroke-linecap="round" />
<line x1="90.50" y1="672.00" x2="90.50" y2="786.00" stroke="#222" stroke-width="1.1" stroke-dasharray="4,2.6" stroke-linecap="butt"/>
<rect x="36.00" y="639.30" width="181.80" height="146.70" fill="none" stroke="#000" stroke-width="1.3"/>
<line x1="36.30" y1="786.00" x2="36.30" y2="783.00" stroke="#000" stroke-width="1" stroke-linecap="butt"/>
<line x1="66.50" y1="786.00" x2="66.50" y2="784.20" stroke="#000" stroke-width="1" stroke-linecap="butt"/>
<line x1="96.70" y1="786.00" x2="96.70" y2="783.00" stroke="#000" stroke-width="1" stroke-linecap="butt"/>
<line x1="126.90" y1="786.00" x2="126.90" y2="784.20" stroke="#000" stroke-width="1" stroke-linecap="butt"/>
<line x1="157.10" y1="786.00" x2="157.10" y2="783.00" stroke="#000" stroke-width="1" stroke-linecap="butt"/>
<line x1="187.30" y1="786.00" x2="187.30" y2="784.20" stroke="#000" stroke-width="1" stroke-linecap="butt"/>
<line x1="217.50" y1="786.00" x2="217.50" y2="783.00" stroke="#000" stroke-width="1" stroke-linecap="butt"/>
<text x="36.30" y="795.47" font-size="7.7" font-weight="bold" text-anchor="middle" fill="#000">0</text>
<text x="96.70" y="795.47" font-size="7.7" font-weight="bold" text-anchor="middle" fill="#000">5</text>
<text x="157.10" y="795.47" font-size="7.7" font-weight="bold" text-anchor="middle" fill="#000">10</text>
<text x="217.50" y="795.47" font-size="7.7" font-weight="bold" text-anchor="middle" fill="#000">15</text>
<text x="127.00" y="805.40" font-size="8.6" font-weight="bold" text-anchor="middle" fill="#000" textLength="67.00" lengthAdjust="spacingAndGlyphs">Frequency (THz)</text>
<text x="26.30" y="712.02" font-size="8.4" font-weight="bold" text-anchor="middle" fill="#000" transform="rotate(-90 26.30 709.00)">PDOS</text>
<rect x="40.50" y="640.60" width="129.90" height="24.90" fill="#fff" stroke="#8a8a8a" stroke-width="0.7" />
<line x1="41.50" y1="645.30" x2="56.00" y2="645.30" stroke="#e05252" stroke-width="1.1" stroke-linecap="butt"/>
<text x="57.50" y="647.75" font-size="6.8" font-weight="bold" text-anchor="start" fill="#000" textLength="111.50" lengthAdjust="spacingAndGlyphs">I-PDOS-1-Cu of Cu(100)/diamond(100)</text>
<line x1="41.50" y1="653.10" x2="56.00" y2="653.10" stroke="#dfb27c" stroke-width="1.1" stroke-linecap="butt"/>
<text x="57.50" y="655.55" font-size="6.8" font-weight="bold" text-anchor="start" fill="#000" textLength="111.50" lengthAdjust="spacingAndGlyphs">I-PDOS-1-Cu of Cu(100)/diamond(110)</text>
<line x1="41.50" y1="660.90" x2="56.00" y2="660.90" stroke="#b9d8f6" stroke-width="1.1" stroke-linecap="butt"/>
<text x="57.50" y="663.35" font-size="6.8" font-weight="bold" text-anchor="start" fill="#000" textLength="111.50" lengthAdjust="spacingAndGlyphs">I-PDOS-1-Cu of Cu(100)/diamond(111)</text>
<text x="104.2" y="680" font-size="10" font-weight="bold" fill="#000">ω<tspan font-size="5.6" font-weight="bold" dy="2">Peak</tspan></text>
<line x1="101.30" y1="681.00" x2="93.60" y2="686.67" stroke="#000" stroke-width="0.8" stroke-linecap="butt"/>
<polygon points="90.70,688.80 92.64,685.36 94.56,687.97" fill="#000" stroke="none" stroke-width="1" stroke-linejoin="round" />
<text x="229.60" y="654.20" font-size="20.5" font-weight="bold" fill="#000">i</text>
<path d="M263.80,785.20 L269.60,784.50 L276.90,783.00 L280.50,781.50 L282.70,782.30 L284.90,779.80 L287.10,778.60 L289.30,779.80 L290.80,777.40 L293.00,779.30 L295.10,776.40 L297.30,774.20 L299.50,781.20 L302.40,769.10 L304.60,776.40 L306.80,774.20 L308.30,769.90 L310.20,771.30 L311.90,766.20 L314.10,767.70 L316.30,761.10 L318.50,753.80 L321.00,735.50 L322.90,745.00 L325.10,756.70 L327.30,761.10 L328.70,777.20 L332.40,772.80 L336.80,764.00 L338.90,746.50 L340.80,731.20 L342.60,746.50 L344.80,764.00 L347.00,766.90 L349.90,767.70 L355.00,765.50 L362.50,762.00 L371.30,765.00 L377.10,768.60 L383.00,766.40 L387.30,761.30 L391.00,755.50 L393.90,758.40 L397.60,767.20 L401.20,771.50 L404.90,767.20 L409.20,759.90 L413.60,749.60 L417.30,748.20 L420.20,738.00 L422.70,722.60 L424.60,739.40 L427.50,758.40 L429.70,748.90 L431.90,761.30 L433.30,785.40" fill="none" stroke="#b9d8f6" stroke-width="1.1" stroke-linejoin="round" stroke-linecap="round" />
<path d="M266.70,785.20 L276.90,783.70 L284.20,782.30 L293.00,780.10 L298.80,778.60 L303.20,776.40 L305.40,773.50 L307.60,774.20 L309.70,771.30 L311.90,772.80 L313.40,768.40 L315.60,765.50 L317.00,771.30 L319.20,762.60 L321.00,767.70 L322.40,761.80 L324.30,770.60 L326.10,762.60 L327.60,766.20 L329.50,753.10 L331.60,756.70 L334.60,755.30 L338.90,755.30 L342.60,753.80 L345.50,759.60 L348.40,766.90 L351.40,767.70 L355.00,767.70 L359.60,765.00 L368.40,766.40 L374.20,767.20 L380.00,766.40 L385.90,764.20 L393.20,759.90 L396.10,764.20 L400.50,764.20 L403.40,754.00 L406.30,738.00 L409.20,751.10 L411.40,757.70 L415.10,743.80 L419.50,737.20 L422.40,727.70 L425.30,751.10 L428.20,761.30 L431.10,775.90 L433.30,785.40" fill="none" stroke="#dfb27c" stroke-width="1.1" stroke-linejoin="round" stroke-linecap="round" />
<path d="M263.80,785.60 L276.90,784.70 L284.20,783.00 L288.60,782.70 L293.00,781.50 L295.90,781.80 L298.80,780.10 L301.70,778.60 L304.60,777.40 L307.60,777.90 L310.50,776.40 L313.40,775.40 L316.30,774.20 L319.20,773.10 L322.20,774.20 L325.10,773.10 L327.30,772.80 L329.50,769.10 L332.40,766.20 L335.30,763.30 L336.80,765.50 L339.70,762.60 L341.90,761.10 L345.50,763.30 L349.90,760.40 L355.00,756.70 L356.40,754.70 L359.60,759.60 L363.20,757.20 L366.90,760.60 L371.30,764.20 L375.70,766.40 L380.00,763.90 L383.70,764.20 L386.60,756.20 L390.30,751.80 L394.60,754.70 L396.80,764.20 L399.70,766.40 L403.40,762.80 L407.80,752.60 L412.90,738.70 L416.50,741.60 L419.50,738.70 L421.60,743.10 L423.80,740.10 L426.00,743.80 L428.90,754.70 L431.90,754.00 L434.10,768.60 L436.20,785.40" fill="none" stroke="#e05252" stroke-width="1.1" stroke-linejoin="round" stroke-linecap="round" />
<line x1="280.50" y1="671.70" x2="280.50" y2="785.60" stroke="#222" stroke-width="1.1" stroke-dasharray="4,2.6" stroke-linecap="butt"/>
<polyline points="328.00,785.60 328.00,721.50 373.60,721.50 373.60,785.60" fill="none" stroke="#222" stroke-width="1.0" stroke-linejoin="round" stroke-dasharray="4,2.6"/>
<rect x="259.60" y="638.80" width="181.90" height="146.80" fill="none" stroke="#000" stroke-width="1.3"/>
<line x1="259.70" y1="785.60" x2="259.70" y2="782.60" stroke="#000" stroke-width="1" stroke-linecap="butt"/>
<line x1="282.50" y1="785.60" x2="282.50" y2="783.80" stroke="#000" stroke-width="1" stroke-linecap="butt"/>
<line x1="305.30" y1="785.60" x2="305.30" y2="782.60" stroke="#000" stroke-width="1" stroke-linecap="butt"/>
<line x1="328.10" y1="785.60" x2="328.10" y2="783.80" stroke="#000" stroke-width="1" stroke-linecap="butt"/>
<line x1="350.90" y1="785.60" x2="350.90" y2="782.60" stroke="#000" stroke-width="1" stroke-linecap="butt"/>
<line x1="373.70" y1="785.60" x2="373.70" y2="783.80" stroke="#000" stroke-width="1" stroke-linecap="butt"/>
<line x1="396.50" y1="785.60" x2="396.50" y2="782.60" stroke="#000" stroke-width="1" stroke-linecap="butt"/>
<line x1="419.30" y1="785.60" x2="419.30" y2="783.80" stroke="#000" stroke-width="1" stroke-linecap="butt"/>
<line x1="442.10" y1="785.60" x2="442.10" y2="782.60" stroke="#000" stroke-width="1" stroke-linecap="butt"/>
<text x="259.70" y="794.57" font-size="7.7" font-weight="bold" text-anchor="middle" fill="#000">0</text>
<text x="305.30" y="794.57" font-size="7.7" font-weight="bold" text-anchor="middle" fill="#000">10</text>
<text x="350.90" y="794.57" font-size="7.7" font-weight="bold" text-anchor="middle" fill="#000">20</text>
<text x="396.50" y="794.57" font-size="7.7" font-weight="bold" text-anchor="middle" fill="#000">30</text>
<text x="442.10" y="794.57" font-size="7.7" font-weight="bold" text-anchor="middle" fill="#000">40</text>
<text x="350.70" y="806.20" font-size="8.6" font-weight="bold" text-anchor="middle" fill="#000" textLength="67.00" lengthAdjust="spacingAndGlyphs">Frequency (THz)</text>
<text x="249.50" y="712.02" font-size="8.4" font-weight="bold" text-anchor="middle" fill="#000" transform="rotate(-90 249.50 709.00)">PDOS</text>
<rect x="264.40" y="640.90" width="130.20" height="24.10" fill="#fff" stroke="#8a8a8a" stroke-width="0.7" />
<line x1="265.30" y1="645.40" x2="280.20" y2="645.40" stroke="#e05252" stroke-width="1.1" stroke-linecap="butt"/>
<text x="281.90" y="647.85" font-size="6.8" font-weight="bold" text-anchor="start" fill="#000" textLength="112.00" lengthAdjust="spacingAndGlyphs">I-PDOS-1-Dia of Cu(100)/diamond(100)</text>
<line x1="265.30" y1="653.10" x2="280.20" y2="653.10" stroke="#dfb27c" stroke-width="1.1" stroke-linecap="butt"/>
<text x="281.90" y="655.55" font-size="6.8" font-weight="bold" text-anchor="start" fill="#000" textLength="112.00" lengthAdjust="spacingAndGlyphs">I-PDOS-1-Dia of Cu(100)/diamond(110)</text>
<line x1="265.30" y1="661.00" x2="280.20" y2="661.00" stroke="#b9d8f6" stroke-width="1.1" stroke-linecap="butt"/>
<text x="281.90" y="663.45" font-size="6.8" font-weight="bold" text-anchor="start" fill="#000" textLength="112.00" lengthAdjust="spacingAndGlyphs">I-PDOS-1-Dia of Cu(100)/diamond(111)</text>
<text x="291.5" y="678.5" font-size="10" font-weight="bold" fill="#000">ω<tspan font-size="5.6" font-weight="bold" dy="2">Peak</tspan></text>
<line x1="291.00" y1="680.30" x2="283.06" y2="689.48" stroke="#000" stroke-width="0.8" stroke-linecap="butt"/>
<polygon points="280.70,692.20 281.83,688.42 284.28,690.54" fill="#000" stroke="none" stroke-width="1" stroke-linejoin="round" />
<text x="459.10" y="657.00" font-size="20.5" font-weight="bold" fill="#000">j</text>
<rect x="483.50" y="638.50" width="182.00" height="147.10" fill="none" stroke="#000" stroke-width="1.1"/>
<text x="480.00" y="772.55" font-size="6.8" font-weight="normal" text-anchor="end" fill="#000">10</text>
<text x="480.00" y="743.30" font-size="6.8" font-weight="normal" text-anchor="end" fill="#000">20</text>
<text x="480.00" y="714.05" font-size="6.8" font-weight="normal" text-anchor="end" fill="#000">30</text>
<text x="480.00" y="684.80" font-size="6.8" font-weight="normal" text-anchor="end" fill="#000">40</text>
<text x="480.00" y="655.55" font-size="6.8" font-weight="normal" text-anchor="end" fill="#000">50</text>
<polyline points="513.70,707.30 574.50,707.50 635.00,710.10" fill="none" stroke="#111" stroke-width="1.2" stroke-linejoin="round" />
<circle cx="513.7" cy="707.3" r="2.6" fill="#000"/>
<circle cx="574.5" cy="707.5" r="2.6" fill="#000"/>
<circle cx="635.0" cy="710.1" r="2.6" fill="#000"/>
<text x="518.10" y="699.64" font-size="9" font-weight="bold" text-anchor="middle" fill="#000" textLength="28.00" lengthAdjust="spacingAndGlyphs">31.67%</text>
<text x="574.90" y="702.44" font-size="9" font-weight="bold" text-anchor="middle" fill="#000" textLength="28.00" lengthAdjust="spacingAndGlyphs">31.74%</text>
<text x="634.70" y="705.44" font-size="9" font-weight="bold" text-anchor="middle" fill="#000" textLength="28.60" lengthAdjust="spacingAndGlyphs">30.08%</text>
<line x1="513.70" y1="785.60" x2="513.70" y2="782.40" stroke="#000" stroke-width="1" stroke-linecap="butt"/>
<line x1="574.50" y1="785.60" x2="574.50" y2="782.40" stroke="#000" stroke-width="1" stroke-linecap="butt"/>
<line x1="635.00" y1="785.60" x2="635.00" y2="782.40" stroke="#000" stroke-width="1" stroke-linecap="butt"/>
<line x1="544.10" y1="785.60" x2="544.10" y2="784.00" stroke="#000" stroke-width="1" stroke-linecap="butt"/>
<line x1="604.70" y1="785.60" x2="604.70" y2="784.00" stroke="#000" stroke-width="1" stroke-linecap="butt"/>
<text x="514.00" y="795.12" font-size="7" font-weight="bold" text-anchor="middle" fill="#000" textLength="54.20" lengthAdjust="spacingAndGlyphs">Cu(100)/Dia(100)</text>
<text x="574.40" y="795.12" font-size="7" font-weight="bold" text-anchor="middle" fill="#000" textLength="54.20" lengthAdjust="spacingAndGlyphs">Cu(100)/Dia(110)</text>
<text x="634.90" y="795.12" font-size="7" font-weight="bold" text-anchor="middle" fill="#000" textLength="54.20" lengthAdjust="spacingAndGlyphs">Cu(100)/Dia(111)</text>
<text x="488.20" y="647.86" font-size="7.1" font-weight="bold" text-anchor="start" fill="#000" textLength="150.00" lengthAdjust="spacingAndGlyphs">Fraction of 15-25 THz modes in I-PDOS-1-Dia</text>
<text x="466.60" y="709.10" font-size="8.6" font-weight="bold" text-anchor="middle" fill="#000" textLength="36.80" lengthAdjust="spacingAndGlyphs" transform="rotate(-90 466.60 706.00)">Ratio (%)</text>
<polygon points="36.20,965.20 36.20,965.10 36.64,965.09 37.08,965.08 37.51,965.07 37.95,965.06 38.39,965.04 38.83,965.03 39.26,965.02 39.70,965.01 40.14,965.00 40.58,964.99 41.01,964.98 41.45,964.97 41.89,964.96 42.33,964.94 42.76,964.93 43.20,964.92 43.64,964.91 44.08,964.90 44.51,964.89 44.60,964.89 44.95,964.88 45.39,964.87 45.83,964.85 46.26,964.84 46.70,964.83 47.14,964.82 47.58,964.81 48.02,964.80 48.45,964.79 48.89,964.78 49.33,964.77 49.77,964.75 50.20,964.74 50.64,964.73 51.08,964.72 51.52,964.71 51.90,964.70 51.95,964.70 52.39,964.66 52.83,964.62 53.27,964.59 53.70,964.55 54.14,964.52 54.58,964.48 55.02,964.44 55.45,964.41 55.89,964.37 56.33,964.34 56.77,964.30 57.20,964.26 57.64,964.23 58.08,964.19 58.52,964.16 58.95,964.12 59.20,964.10 59.39,964.08 59.83,964.05 60.27,964.01 60.71,963.98 61.14,963.94 61.58,963.90 62.02,963.87 62.46,963.83 62.89,963.80 63.33,963.76 63.77,963.72 64.21,963.69 64.64,963.65 65.08,963.62 65.52,963.58 65.96,963.54 66.39,963.51 66.50,963.50 66.83,963.45 67.27,963.39 67.71,963.33 68.14,963.27 68.58,963.21 69.02,963.15 69.46,963.09 69.89,963.03 70.33,962.98 70.77,962.92 70.90,962.90 71.21,962.86 71.65,962.80 72.08,962.74 72.52,962.68 72.96,962.62 73.40,962.56 73.80,962.50 73.83,962.50 74.27,962.44 74.50,962.40 74.71,962.38 75.15,962.32 75.58,962.26 76.02,962.20 76.46,962.14 76.90,962.08 77.33,962.02 77.77,961.96 78.20,961.90 78.21,961.90 78.65,961.84 79.08,961.78 79.52,961.72 79.96,961.66 80.40,961.60 80.83,961.54 81.10,961.50 81.27,961.47 81.71,961.40 82.15,961.33 82.58,961.26 83.02,961.18 83.46,961.11 83.90,961.04 84.34,960.97 84.77,960.90 85.21,960.82 85.50,960.78 85.65,960.75 86.09,960.68 86.52,960.61 86.96,960.54 87.40,960.46 87.84,960.39 88.27,960.32 88.40,960.30 88.71,960.14 89.15,959.91 89.59,959.69 89.90,959.52 90.02,959.46 90.46,959.23 90.90,959.01 91.30,958.80 91.34,958.81 91.77,958.93 92.21,959.05 92.65,959.17 93.09,959.29 93.52,959.41 93.96,959.53 94.20,959.60 94.40,959.53 94.84,959.38 95.00,959.33 95.28,959.23 95.71,959.08 96.15,958.94 96.59,958.79 97.03,958.64 97.46,958.49 97.90,958.34 98.34,958.19 98.60,958.10 98.78,957.98 99.21,957.70 99.65,957.41 100.09,957.12 100.53,956.83 100.96,956.54 101.40,956.25 101.84,955.97 102.28,955.68 102.71,955.39 103.00,955.20 103.15,955.04 103.59,954.59 104.03,954.14 104.46,953.69 104.90,953.24 105.34,952.80 105.78,952.35 106.22,951.90 106.60,951.50 106.65,951.46 107.09,951.14 107.53,950.82 107.97,950.50 108.40,950.18 108.84,949.86 109.28,949.54 109.60,949.30 109.72,949.39 110.15,949.72 110.59,950.05 111.03,950.38 111.47,950.72 111.80,950.97 111.90,951.05 112.34,951.38 112.50,951.50 112.78,950.66 113.22,949.35 113.65,948.04 113.90,947.30 114.09,946.75 114.53,945.71 114.97,944.68 115.40,943.65 115.40,943.64 115.84,943.08 116.10,943.25 116.28,943.36 116.72,943.64 117.15,943.92 117.59,944.20 117.60,944.20 118.03,945.06 118.47,945.94 118.91,946.81 119.10,947.20 119.34,946.76 119.78,945.98 120.22,945.20 120.66,944.41 121.09,943.63 121.53,942.84 121.97,942.06 122.00,942.00 122.41,942.11 122.84,942.23 123.28,942.35 123.72,942.47 124.16,942.59 124.59,942.72 124.90,942.80 125.03,943.02 125.47,943.73 125.91,944.45 126.34,945.16 126.40,945.25 126.78,945.88 127.10,946.40 127.22,946.18 127.66,945.38 128.09,944.58 128.53,943.77 128.80,943.28 128.97,942.97 129.41,942.17 129.50,942.00 129.85,941.86 130.28,941.67 130.72,941.49 131.16,941.31 131.60,941.13 132.03,940.94 132.40,940.79 132.47,940.76 132.91,940.58 133.10,940.50 133.35,940.62 133.78,940.84 134.22,941.06 134.66,941.28 135.10,941.50 135.30,941.60 135.53,941.72 135.97,941.94 136.10,942.00 136.41,941.63 136.85,941.11 137.28,940.60 137.72,940.08 138.16,939.56 138.60,939.04 139.00,938.56 139.03,938.52 139.47,938.00 139.91,937.79 140.35,938.22 140.40,938.27 140.78,938.64 141.22,939.07 141.66,939.50 142.10,939.93 142.54,940.65 142.97,941.42 143.40,942.17 143.41,942.19 143.85,942.96 144.10,943.40 144.29,943.51 144.72,943.77 145.16,944.02 145.60,944.28 146.04,944.54 146.47,944.80 146.91,945.05 147.35,945.31 147.79,945.57 148.22,945.83 148.66,946.08 149.10,946.34 149.20,946.40 149.54,946.74 149.97,947.17 150.41,947.61 150.85,948.05 151.29,948.49 151.72,948.92 152.16,949.36 152.60,949.80 152.80,950.00 153.04,949.81 153.48,949.47 153.91,949.13 154.35,948.78 154.79,948.44 155.00,948.28 155.23,948.10 155.66,947.76 156.10,947.41 156.50,947.10 156.54,947.10 156.98,947.10 157.41,947.10 157.85,947.10 158.29,947.10 158.73,947.10 159.16,947.10 159.40,947.10 159.60,947.10 160.04,947.10 160.48,947.10 160.90,947.10 160.91,947.09 161.35,946.93 161.79,946.76 162.23,946.60 162.66,946.43 163.10,946.26 163.54,946.10 163.80,946.00 163.98,945.93 164.42,945.77 164.85,945.60 165.29,945.43 165.73,945.27 166.17,945.10 166.60,944.94 166.70,944.90 167.04,943.70 167.40,942.44 167.48,942.16 167.92,940.62 168.35,939.08 168.79,937.55 169.23,936.01 169.60,934.70 169.67,934.48 170.10,932.99 170.40,932.50 170.54,933.10 170.98,934.98 171.10,935.49 171.42,936.85 171.85,938.72 172.29,940.59 172.73,942.46 173.17,944.33 173.30,944.90 173.60,944.98 174.04,945.10 174.48,946.15 174.92,947.69 175.35,949.23 175.79,950.77 176.20,952.20 176.23,952.15 176.67,951.47 177.11,950.78 177.54,950.09 177.70,949.85 177.98,949.41 178.42,948.72 178.86,948.04 179.29,947.35 179.73,946.67 179.90,946.40 180.17,946.31 180.61,946.15 181.04,946.00 181.30,945.91 181.48,945.85 181.92,945.70 182.36,945.54 182.79,945.39 183.23,945.24 183.67,945.09 184.11,944.93 184.20,944.90 184.54,943.56 184.98,941.85 185.42,940.14 185.86,938.44 186.29,936.73 186.40,936.32 186.73,935.02 187.17,933.32 187.20,933.20 187.61,929.72 188.05,925.97 188.48,922.23 188.92,920.04 189.30,918.60 189.36,918.66 189.80,919.08 190.10,919.37 190.23,919.50 190.67,919.92 191.11,920.35 191.55,920.77 191.98,921.19 192.30,921.50 192.42,921.35 192.86,920.81 193.00,920.63 193.30,920.26 193.73,919.72 194.17,919.18 194.61,918.63 195.05,918.09 195.20,917.90 195.48,918.13 195.90,918.46 195.92,918.48 196.36,918.83 196.80,919.19 197.23,919.54 197.67,919.89 198.11,920.24 198.55,920.60 198.80,920.80 198.98,920.89 199.42,921.11 199.86,921.33 200.30,921.55 200.60,921.70 200.74,921.77 201.17,921.99 201.61,922.21 201.80,922.30 202.05,923.23 202.49,924.88 202.50,924.93 202.92,926.52 203.36,928.17 203.80,929.81 204.24,931.46 204.40,932.07 204.67,933.10 204.70,933.20 205.11,933.48 205.55,933.78 205.99,934.08 206.10,934.15 206.42,934.38 206.86,934.67 206.90,934.70 207.30,936.71 207.60,938.22 207.74,938.91 208.17,941.12 208.61,946.18 209.05,953.70 209.30,958.00 209.49,959.03 209.80,960.75 209.92,961.44 210.36,963.84 210.50,964.60 210.80,965.10 210.80,965.20" fill="#dff3f3" stroke="none" stroke-width="1" stroke-linejoin="round" />
<path d="M36.20,965.10 L51.90,964.70 L66.50,963.50 L73.80,962.50 L81.10,961.50 L88.40,960.30 L91.30,958.80 L94.20,959.60 L98.60,958.10 L103.00,955.20 L106.60,951.50 L109.60,949.30 L112.50,951.50 L115.40,942.80 L117.60,944.20 L119.10,947.20 L122.00,942.00 L124.90,942.80 L127.10,946.40 L129.50,942.00 L133.10,940.50 L136.10,942.00 L140.40,936.90 L144.10,943.40 L149.20,946.40 L152.80,950.00 L156.50,947.10 L160.90,947.10 L166.70,944.90 L169.60,934.70 L171.10,929.60 L173.30,942.00 L176.20,952.20 L179.90,946.40 L184.20,944.90 L187.20,933.20 L190.10,908.40 L193.00,898.20 L195.90,882.10 L198.80,862.40 L200.60,866.10 L202.50,892.30 L204.40,914.20 L206.10,907.70 L207.60,928.80 L209.30,958.00 L210.50,964.60 L210.80,965.10" fill="none" stroke="#b98cf0" stroke-width="1.0" stroke-linejoin="round" stroke-linecap="round" />
<path d="M36.20,965.10 L44.60,964.40 L59.20,962.50 L70.90,961.80 L74.50,959.60 L78.20,960.00 L81.10,956.60 L85.50,957.40 L89.90,955.20 L95.00,952.30 L98.60,954.50 L103.00,954.70 L106.60,947.90 L109.60,945.00 L111.80,942.50 L113.90,947.20 L116.10,942.00 L119.10,943.50 L122.00,941.30 L126.40,942.80 L128.80,941.20 L132.40,934.40 L135.30,938.30 L139.00,936.90 L143.40,941.20 L149.20,944.90 L155.00,944.20 L159.40,943.40 L163.80,934.70 L167.40,931.80 L170.40,932.50 L173.30,944.90 L177.70,946.10 L181.30,939.10 L186.40,929.60 L189.30,918.60 L192.30,921.50 L195.20,917.90 L198.80,920.80 L201.80,922.30 L204.70,933.20 L206.90,934.70 L209.80,949.30 L212.00,964.60 L212.30,965.10" fill="none" stroke="#e2604e" stroke-width="1.0" stroke-linejoin="round" stroke-linecap="round" />
<rect x="36.20" y="818.80" width="181.30" height="146.40" fill="none" stroke="#000" stroke-width="1.3"/>
<line x1="36.20" y1="965.20" x2="36.20" y2="962.20" stroke="#000" stroke-width="1" stroke-linecap="butt"/>
<line x1="58.87" y1="965.20" x2="58.87" y2="963.40" stroke="#000" stroke-width="1" stroke-linecap="butt"/>
<line x1="81.53" y1="965.20" x2="81.53" y2="962.20" stroke="#000" stroke-width="1" stroke-linecap="butt"/>
<line x1="104.20" y1="965.20" x2="104.20" y2="963.40" stroke="#000" stroke-width="1" stroke-linecap="butt"/>
<line x1="126.86" y1="965.20" x2="126.86" y2="962.20" stroke="#000" stroke-width="1" stroke-linecap="butt"/>
<line x1="149.53" y1="965.20" x2="149.53" y2="963.40" stroke="#000" stroke-width="1" stroke-linecap="butt"/>
<line x1="172.19" y1="965.20" x2="172.19" y2="962.20" stroke="#000" stroke-width="1" stroke-linecap="butt"/>
<line x1="194.86" y1="965.20" x2="194.86" y2="963.40" stroke="#000" stroke-width="1" stroke-linecap="butt"/>
<line x1="217.52" y1="965.20" x2="217.52" y2="962.20" stroke="#000" stroke-width="1" stroke-linecap="butt"/>
<text x="36.20" y="974.96" font-size="7.4" font-weight="bold" text-anchor="middle" fill="#000">0</text>
<text x="81.53" y="974.96" font-size="7.4" font-weight="bold" text-anchor="middle" fill="#000">10</text>
<text x="126.86" y="974.96" font-size="7.4" font-weight="bold" text-anchor="middle" fill="#000">20</text>
<text x="172.19" y="974.96" font-size="7.4" font-weight="bold" text-anchor="middle" fill="#000">30</text>
<text x="217.52" y="974.96" font-size="7.4" font-weight="bold" text-anchor="middle" fill="#000">40</text>
<text x="126.85" y="984.05" font-size="8.2" font-weight="bold" text-anchor="middle" fill="#000" textLength="66.50" lengthAdjust="spacingAndGlyphs">Frequency (THz)</text>
<text x="26.60" y="892.02" font-size="8.4" font-weight="bold" text-anchor="middle" fill="#000" transform="rotate(-90 26.60 889.00)">PDOS</text>
<text x="8.10" y="826.90" font-size="20.5" font-weight="bold" fill="#000">k</text>
<text x="42.90" y="863.62" font-size="7.0" font-weight="bold" text-anchor="start" fill="#000" textLength="72.40" lengthAdjust="spacingAndGlyphs">Cu(100)/diamond(100)</text>
<text x="137.50" y="956.92" font-size="7.0" font-weight="bold" text-anchor="start" fill="#222" textLength="23.40" lengthAdjust="spacingAndGlyphs">82.85%</text>
<rect x="42.00" y="821.60" width="64.00" height="27.20" fill="#fff" stroke="#8a8a8a" stroke-width="0.7" />
<rect x="42.90" y="822.50" width="16.70" height="7.90" fill="#dff3f3" stroke="#aaa" stroke-width="0.5" />
<line x1="42.90" y1="835.70" x2="59.60" y2="835.70" stroke="#e2604e" stroke-width="1.0" stroke-linecap="butt"/>
<line x1="42.90" y1="844.40" x2="59.60" y2="844.40" stroke="#b98cf0" stroke-width="1.0" stroke-linecap="butt"/>
<text x="61.30" y="829.42" font-size="7.0" font-weight="bold" text-anchor="start" fill="#000" textLength="42.00" lengthAdjust="spacingAndGlyphs">Overlap area</text>
<text x="61.30" y="838.22" font-size="7.0" font-weight="bold" text-anchor="start" fill="#000" textLength="41.50" lengthAdjust="spacingAndGlyphs">I-PDOS-1-Dia</text>
<text x="61.30" y="846.92" font-size="7.0" font-weight="bold" text-anchor="start" fill="#000" textLength="41.50" lengthAdjust="spacingAndGlyphs">I-PDOS-2-Dia</text>
<polygon points="262.00,965.20 262.00,965.10 262.43,965.09 262.86,965.07 263.29,965.06 263.71,965.05 264.14,965.03 264.57,965.02 265.00,965.01 265.43,964.99 265.86,964.98 266.29,964.96 266.70,964.95 266.71,964.95 267.14,964.94 267.57,964.92 268.00,964.91 268.43,964.90 268.86,964.88 269.29,964.87 269.71,964.86 270.14,964.84 270.57,964.83 271.00,964.82 271.43,964.80 271.86,964.79 272.29,964.78 272.71,964.76 273.14,964.75 273.57,964.74 274.00,964.72 274.43,964.71 274.86,964.69 275.29,964.68 275.71,964.67 276.14,964.65 276.57,964.64 276.90,964.63 277.00,964.63 277.43,964.61 277.86,964.60 278.29,964.59 278.71,964.57 279.14,964.56 279.57,964.55 280.00,964.53 280.43,964.52 280.86,964.51 281.29,964.49 281.30,964.49 281.71,964.48 282.14,964.46 282.57,964.45 283.00,964.44 283.43,964.42 283.86,964.41 284.20,964.40 284.29,964.39 284.71,964.33 285.14,964.28 285.57,964.22 286.00,964.17 286.43,964.11 286.86,964.05 287.29,964.00 287.71,963.94 287.80,963.93 288.14,963.89 288.57,963.83 289.00,963.78 289.43,963.72 289.86,963.66 290.29,963.61 290.71,963.55 290.80,963.54 291.14,963.50 291.57,963.44 292.00,963.38 292.43,963.33 292.86,963.27 293.29,963.22 293.70,963.16 293.71,963.16 294.14,963.11 294.57,963.05 295.00,962.99 295.43,962.94 295.86,962.88 296.29,962.83 296.60,962.79 296.71,962.77 297.14,962.72 297.57,962.66 298.00,962.60 298.43,962.55 298.80,962.50 298.86,962.49 299.29,962.44 299.71,962.38 300.14,962.33 300.30,962.30 300.57,962.27 301.00,962.21 301.43,962.16 301.86,962.10 302.29,962.05 302.71,961.99 303.14,961.93 303.20,961.93 303.57,961.88 304.00,961.82 304.43,961.77 304.86,961.71 305.29,961.66 305.71,961.60 306.14,961.54 306.57,961.49 306.80,961.46 307.00,961.43 307.43,961.38 307.86,961.32 308.29,961.27 308.71,961.21 309.14,961.15 309.57,961.10 310.00,961.04 310.43,960.99 310.50,960.98 310.86,960.93 311.29,960.88 311.71,960.82 312.14,960.76 312.57,960.71 313.00,960.65 313.40,960.60 313.43,960.59 313.86,960.51 314.29,960.42 314.71,960.33 314.90,960.29 315.14,960.24 315.57,960.16 316.00,960.07 316.43,959.98 316.86,959.89 317.29,959.81 317.71,959.72 318.14,959.63 318.57,959.54 319.00,959.45 319.20,959.41 319.43,959.37 319.86,959.28 320.29,959.19 320.71,959.10 321.14,959.02 321.57,958.93 322.00,958.84 322.20,958.80 322.43,958.67 322.86,958.44 323.29,958.20 323.71,957.96 324.14,957.73 324.30,957.64 324.57,957.49 325.00,957.26 325.43,957.02 325.86,956.78 326.29,956.55 326.71,956.31 327.14,956.07 327.57,955.84 328.00,955.60 328.43,955.20 328.86,954.80 329.29,954.40 329.71,954.00 330.14,953.60 330.57,953.20 330.60,953.18 331.00,952.80 331.43,952.41 331.86,952.01 332.29,951.61 332.40,951.50 332.71,951.24 333.14,950.89 333.57,950.54 333.80,950.35 334.00,950.19 334.43,949.84 334.86,949.49 335.29,949.14 335.71,948.79 336.14,948.44 336.57,948.09 336.80,947.90 337.00,947.69 337.43,947.25 337.86,946.81 338.29,946.37 338.71,945.93 339.14,945.49 339.57,945.05 339.70,944.92 340.00,944.61 340.40,944.20 340.43,944.20 340.86,944.20 341.29,944.20 341.71,944.20 342.14,944.20 342.57,944.20 343.00,944.20 343.43,944.20 343.86,944.20 344.00,944.20 344.29,944.21 344.71,944.24 345.14,944.26 345.57,944.28 346.00,944.30 346.43,944.32 346.86,944.40 347.29,944.76 347.71,945.12 347.90,945.28 348.14,945.48 348.40,945.70 348.57,945.74 349.00,945.85 349.43,945.96 349.86,946.06 350.29,946.17 350.71,946.28 350.80,946.30 351.14,946.19 351.57,946.05 351.60,946.04 352.00,945.91 352.43,945.78 352.86,945.64 353.29,945.50 353.71,945.36 354.14,945.22 354.57,945.09 355.00,944.95 355.20,944.88 355.43,944.81 355.86,944.67 356.29,944.53 356.70,944.40 356.71,944.40 357.14,944.35 357.57,944.29 358.00,944.24 358.10,944.23 358.43,944.19 358.86,944.13 359.29,944.08 359.71,944.03 360.14,943.98 360.57,943.92 361.00,943.87 361.10,943.86 361.43,943.82 361.86,943.77 362.29,943.71 362.71,943.66 363.14,943.61 363.20,943.60 363.57,943.77 364.00,943.97 364.43,944.16 364.86,944.36 365.29,944.55 365.71,944.75 366.14,944.95 366.57,945.14 366.90,945.29 367.00,945.34 367.43,945.54 367.86,945.73 368.29,945.93 368.71,946.12 369.10,946.30 369.14,946.31 369.57,946.40 370.00,946.49 370.43,946.58 370.86,946.79 371.29,947.28 371.30,947.30 371.71,947.42 372.14,947.55 372.57,947.68 373.00,947.81 373.43,947.94 373.86,948.07 374.29,948.20 374.71,948.33 375.14,948.46 375.57,948.59 376.00,948.72 376.43,948.85 376.86,948.97 377.10,949.05 377.29,949.10 377.71,949.23 378.14,949.36 378.57,949.49 378.60,949.50 379.00,949.38 379.43,949.25 379.86,949.12 380.29,948.99 380.71,948.86 381.14,948.73 381.57,948.60 382.00,948.48 382.43,948.35 382.86,948.22 383.29,948.09 383.71,947.96 384.14,947.83 384.40,947.75 384.57,947.70 385.00,947.57 385.43,947.44 385.86,947.31 385.90,947.30 386.29,946.91 386.71,946.49 387.14,946.06 387.57,945.63 388.00,945.20 388.43,944.77 388.80,944.40 388.86,944.34 389.29,943.91 389.71,943.49 390.14,943.06 390.57,942.63 391.00,942.20 391.43,940.49 391.86,939.70 392.29,939.16 392.71,938.61 393.14,938.06 393.20,937.99 393.57,937.52 393.90,937.10 394.00,937.20 394.43,937.63 394.86,938.06 395.29,938.49 395.40,938.60 395.71,938.91 396.10,939.30 396.14,939.39 396.57,940.24 397.00,941.10 397.43,941.96 397.60,942.30 397.86,942.81 398.29,943.67 398.71,945.46 399.00,946.69 399.14,947.30 399.57,949.13 400.00,950.96 400.43,952.79 400.50,953.10 400.86,952.57 401.29,951.93 401.71,951.30 401.90,951.02 402.14,950.66 402.57,950.03 403.00,949.39 403.40,948.80 403.43,948.75 403.86,947.98 404.29,947.21 404.71,946.44 405.14,945.67 405.57,944.91 406.00,944.14 406.30,943.60 406.43,943.25 406.86,942.06 407.29,940.88 407.71,939.70 408.14,938.52 408.57,937.34 409.00,936.16 409.20,936.40 409.43,935.64 409.86,934.22 410.00,933.75 410.29,932.80 410.71,931.38 411.14,929.95 411.57,928.53 412.00,927.11 412.43,925.69 412.86,924.26 413.29,922.84 413.60,921.80 413.71,921.69 414.14,921.26 414.57,920.83 415.00,920.40 415.43,919.97 415.80,919.60 415.86,919.54 416.29,919.11 416.71,918.69 417.14,918.26 417.57,917.83 418.00,917.40 418.43,915.56 418.86,913.72 419.29,911.88 419.71,910.04 420.14,908.20 420.57,906.36 420.90,904.95 421.00,904.52 421.43,902.68 421.86,900.84 422.29,899.00 422.71,897.16 423.10,895.50 423.14,895.80 423.57,898.82 423.80,900.42 424.00,901.83 424.43,904.85 424.86,907.86 425.29,910.88 425.60,913.09 425.71,913.89 426.00,915.90 426.14,917.43 426.57,922.03 427.00,926.63 427.43,931.23 427.50,932.00 427.86,932.36 427.90,932.40 428.29,932.79 428.71,933.21 429.14,933.64 429.57,934.07 430.00,934.50 430.40,934.90 430.43,935.26 430.86,940.66 431.29,946.05 431.71,951.45 431.90,953.79 432.14,956.84 432.57,962.24 432.60,962.60 433.00,965.10 433.00,965.20" fill="#dff3f3" stroke="none" stroke-width="1" stroke-linejoin="round" />
<path d="M262.00,965.10 L284.20,964.40 L298.80,962.50 L313.40,960.60 L322.20,958.80 L328.00,955.60 L332.40,951.50 L336.80,947.90 L340.40,944.20 L344.00,944.20 L347.90,944.40 L351.60,942.90 L355.20,944.40 L358.10,941.50 L361.10,942.20 L364.00,939.30 L366.90,942.20 L371.30,947.30 L378.60,949.50 L385.90,947.30 L391.00,942.20 L393.20,933.40 L395.40,930.50 L397.60,940.70 L400.50,953.10 L403.40,948.80 L406.30,943.60 L410.00,933.40 L413.60,908.60 L415.80,901.30 L418.00,902.80 L420.90,876.50 L423.80,849.50 L425.60,869.20 L427.90,917.40 L430.40,899.10 L431.90,927.60 L433.30,964.80 L433.40,965.10" fill="none" stroke="#b98cf0" stroke-width="1.0" stroke-linejoin="round" stroke-linecap="round" />
<path d="M262.00,965.10 L266.70,964.70 L276.90,963.50 L281.30,961.80 L284.20,962.90 L287.80,959.60 L290.80,961.00 L293.70,959.60 L296.60,957.40 L300.30,958.10 L303.20,955.90 L306.80,955.90 L310.50,953.00 L314.90,950.80 L319.20,950.10 L322.20,947.20 L324.30,942.80 L328.00,941.30 L330.60,938.40 L333.80,942.00 L336.80,939.90 L339.70,942.80 L344.00,942.00 L348.40,945.70 L350.80,946.30 L356.70,944.40 L363.20,943.60 L369.10,946.30 L377.10,948.00 L384.40,945.80 L388.80,943.60 L393.90,937.10 L396.10,939.30 L399.00,945.10 L401.90,942.20 L406.30,931.20 L409.20,936.40 L413.60,921.80 L418.00,917.40 L423.10,895.50 L426.00,915.90 L427.50,932.00 L430.40,934.90 L432.60,962.60 L433.00,965.10" fill="none" stroke="#e2604e" stroke-width="1.0" stroke-linejoin="round" stroke-linecap="round" />
<rect x="259.90" y="818.90" width="181.30" height="146.30" fill="none" stroke="#000" stroke-width="1.3"/>
<line x1="260.10" y1="965.20" x2="260.10" y2="962.20" stroke="#000" stroke-width="1" stroke-linecap="butt"/>
<line x1="282.74" y1="965.20" x2="282.74" y2="963.40" stroke="#000" stroke-width="1" stroke-linecap="butt"/>
<line x1="305.38" y1="965.20" x2="305.38" y2="962.20" stroke="#000" stroke-width="1" stroke-linecap="butt"/>
<line x1="328.02" y1="965.20" x2="328.02" y2="963.40" stroke="#000" stroke-width="1" stroke-linecap="butt"/>
<line x1="350.66" y1="965.20" x2="350.66" y2="962.20" stroke="#000" stroke-width="1" stroke-linecap="butt"/>
<line x1="373.30" y1="965.20" x2="373.30" y2="963.40" stroke="#000" stroke-width="1" stroke-linecap="butt"/>
<line x1="395.94" y1="965.20" x2="395.94" y2="962.20" stroke="#000" stroke-width="1" stroke-linecap="butt"/>
<line x1="418.58" y1="965.20" x2="418.58" y2="963.40" stroke="#000" stroke-width="1" stroke-linecap="butt"/>
<line x1="441.22" y1="965.20" x2="441.22" y2="962.20" stroke="#000" stroke-width="1" stroke-linecap="butt"/>
<text x="260.10" y="974.96" font-size="7.4" font-weight="bold" text-anchor="middle" fill="#000">0</text>
<text x="305.38" y="974.96" font-size="7.4" font-weight="bold" text-anchor="middle" fill="#000">10</text>
<text x="350.66" y="974.96" font-size="7.4" font-weight="bold" text-anchor="middle" fill="#000">20</text>
<text x="395.94" y="974.96" font-size="7.4" font-weight="bold" text-anchor="middle" fill="#000">30</text>
<text x="441.22" y="974.96" font-size="7.4" font-weight="bold" text-anchor="middle" fill="#000">40</text>
<text x="350.55" y="986.35" font-size="8.2" font-weight="bold" text-anchor="middle" fill="#000" textLength="66.50" lengthAdjust="spacingAndGlyphs">Frequency (THz)</text>
<text x="249.80" y="892.02" font-size="8.4" font-weight="bold" text-anchor="middle" fill="#000" transform="rotate(-90 249.80 889.00)">PDOS</text>
<text x="232.20" y="824.90" font-size="20.5" font-weight="bold" fill="#000">l</text>
<text x="267.00" y="862.32" font-size="7.0" font-weight="bold" text-anchor="start" fill="#000" textLength="72.40" lengthAdjust="spacingAndGlyphs">Cu(100)/diamond(110)</text>
<text x="363.70" y="954.92" font-size="7.0" font-weight="bold" text-anchor="start" fill="#222" textLength="23.40" lengthAdjust="spacingAndGlyphs">81.80%</text>
<rect x="265.30" y="821.80" width="63.30" height="26.90" fill="#fff" stroke="#8a8a8a" stroke-width="0.7" />
<rect x="266.20" y="822.70" width="16.70" height="7.90" fill="#dff3f3" stroke="#aaa" stroke-width="0.5" />
<line x1="266.20" y1="835.90" x2="282.90" y2="835.90" stroke="#e2604e" stroke-width="1.0" stroke-linecap="butt"/>
<line x1="266.20" y1="844.60" x2="282.90" y2="844.60" stroke="#b98cf0" stroke-width="1.0" stroke-linecap="butt"/>
<text x="284.60" y="829.62" font-size="7.0" font-weight="bold" text-anchor="start" fill="#000" textLength="42.00" lengthAdjust="spacingAndGlyphs">Overlap area</text>
<text x="284.60" y="838.42" font-size="7.0" font-weight="bold" text-anchor="start" fill="#000" textLength="41.50" lengthAdjust="spacingAndGlyphs">I-PDOS-1-Dia</text>
<text x="284.60" y="847.12" font-size="7.0" font-weight="bold" text-anchor="start" fill="#000" textLength="41.50" lengthAdjust="spacingAndGlyphs">I-PDOS-2-Dia</text>
<polygon points="486.00,965.30 486.00,965.10 486.43,965.09 486.86,965.08 487.29,965.07 487.72,965.07 488.15,965.06 488.58,965.05 489.01,965.04 489.44,965.03 489.87,965.02 490.30,965.02 490.73,965.01 491.10,965.00 491.16,965.00 491.59,964.98 492.02,964.95 492.45,964.93 492.89,964.91 493.32,964.89 493.75,964.87 494.18,964.85 494.61,964.83 495.04,964.80 495.47,964.78 495.90,964.76 496.33,964.74 496.76,964.72 497.19,964.70 497.62,964.68 498.05,964.65 498.48,964.63 498.91,964.61 499.34,964.59 499.77,964.57 499.90,964.56 500.20,964.55 500.63,964.53 501.06,964.51 501.49,964.48 501.92,964.46 502.35,964.44 502.78,964.42 503.21,964.40 503.64,964.38 504.07,964.36 504.30,964.34 504.50,964.33 504.93,964.31 505.36,964.29 505.79,964.27 506.23,964.25 506.66,964.23 507.09,964.21 507.20,964.20 507.52,964.17 507.95,964.13 508.38,964.09 508.81,964.05 509.24,964.00 509.67,963.96 510.10,963.92 510.53,963.88 510.96,963.84 511.39,963.80 511.82,963.76 512.25,963.72 512.30,963.71 512.68,963.67 513.11,963.63 513.54,963.59 513.97,963.55 514.40,963.51 514.83,963.47 515.20,963.43 515.26,963.43 515.69,963.39 516.12,963.34 516.55,963.30 516.98,963.26 517.40,963.22 517.41,963.22 517.84,963.18 518.27,963.14 518.70,963.10 519.14,963.06 519.57,963.01 520.00,962.97 520.30,962.94 520.43,962.93 520.86,962.89 521.29,962.85 521.72,962.81 521.80,962.80 522.15,962.73 522.58,962.65 523.01,962.56 523.30,962.50 523.44,962.47 523.87,962.39 524.30,962.30 524.73,962.22 525.16,962.13 525.59,962.05 526.02,961.96 526.20,961.93 526.45,961.88 526.88,961.79 527.31,961.71 527.74,961.62 528.17,961.53 528.40,961.49 528.60,961.45 529.03,961.36 529.46,961.28 529.89,961.19 530.32,961.11 530.75,961.02 531.18,960.94 531.61,960.85 532.04,960.77 532.48,960.68 532.70,960.63 532.91,960.59 533.34,960.51 533.77,960.42 534.20,960.34 534.63,960.25 535.06,960.17 535.49,960.08 535.70,960.04 535.92,960.00 536.35,959.91 536.40,959.90 536.78,959.82 537.21,959.73 537.64,959.63 538.07,959.54 538.50,959.45 538.60,959.43 538.93,959.35 539.36,959.26 539.79,959.17 540.22,959.08 540.65,958.98 541.08,958.89 541.50,958.80 541.51,958.80 541.94,958.70 542.37,958.61 542.80,958.52 543.23,958.43 543.66,958.33 544.09,958.24 544.52,958.15 544.90,958.07 544.95,958.05 545.38,957.96 545.82,957.87 546.25,957.78 546.60,957.70 546.68,957.67 547.11,957.51 547.30,957.44 547.54,957.35 547.97,957.19 548.40,957.03 548.83,956.86 549.26,956.70 549.69,956.54 550.12,956.38 550.55,956.22 550.98,956.06 551.00,956.05 551.41,955.90 551.84,955.74 552.27,955.57 552.70,955.41 553.13,955.25 553.56,955.09 553.99,954.93 554.42,954.77 554.60,954.70 554.85,954.34 555.28,953.72 555.71,953.11 556.14,952.49 556.57,951.87 557.00,951.25 557.43,950.64 557.60,950.40 557.86,950.03 558.29,949.42 558.73,948.81 559.16,948.20 559.59,947.59 560.02,946.98 560.45,946.37 560.88,945.76 561.20,945.30 561.31,945.28 561.74,945.20 562.17,945.12 562.60,945.05 563.03,944.97 563.46,944.89 563.89,944.81 564.10,944.77 564.32,944.73 564.75,944.65 565.18,944.58 565.60,944.50 565.61,944.50 566.04,944.45 566.47,944.40 566.90,944.36 567.30,944.31 567.33,944.31 567.76,944.26 568.19,944.21 568.62,944.16 569.05,944.12 569.20,944.10 569.48,943.91 569.91,943.61 570.34,943.71 570.77,944.24 571.20,944.77 571.40,945.01 571.63,945.30 572.07,945.83 572.20,946.00 572.50,946.05 572.93,946.12 573.36,946.19 573.79,946.26 574.22,946.34 574.40,946.37 574.65,946.41 575.08,946.48 575.51,946.55 575.80,946.60 575.94,946.55 576.37,946.39 576.60,946.30 576.80,946.23 577.23,946.07 577.66,945.91 578.09,945.75 578.52,945.59 578.95,945.43 579.38,945.68 579.50,945.80 579.81,945.55 580.24,945.20 580.67,944.86 581.10,944.62 581.53,944.46 581.70,944.40 581.96,944.37 582.39,944.32 582.82,944.28 583.10,944.25 583.25,944.23 583.68,944.18 584.11,944.14 584.54,944.09 584.97,944.04 585.41,943.99 585.84,943.95 586.10,943.92 586.27,943.90 586.70,943.85 587.13,943.81 587.56,943.76 587.99,943.71 588.42,943.66 588.85,943.62 589.00,943.60 589.28,943.63 589.71,943.68 590.14,943.72 590.57,943.77 591.00,943.82 591.43,943.87 591.86,943.91 592.29,944.60 592.60,945.10 592.72,945.15 593.15,945.34 593.58,945.53 594.01,945.72 594.44,945.91 594.87,946.10 595.30,946.29 595.73,946.48 596.16,946.67 596.30,946.73 596.59,946.85 597.02,947.04 597.45,947.23 597.88,947.42 598.32,947.61 598.75,947.80 599.18,947.99 599.20,948.00 599.61,948.08 600.04,948.17 600.47,948.26 600.90,948.35 601.33,948.44 601.76,948.53 602.19,948.61 602.62,948.70 603.05,948.79 603.48,948.88 603.91,948.97 604.34,949.06 604.77,949.14 605.00,949.19 605.20,949.23 605.63,949.32 606.06,949.41 606.49,949.50 606.50,949.50 606.92,949.22 607.35,948.94 607.78,948.65 608.20,948.38 608.21,948.37 608.64,948.09 609.07,947.80 609.50,947.52 609.93,947.24 610.36,946.95 610.79,946.67 610.90,946.60 611.22,946.26 611.66,945.82 612.09,945.37 612.52,944.93 612.95,944.48 613.10,944.32 613.38,944.04 613.80,943.60 613.81,943.58 614.24,942.29 614.67,941.00 615.10,939.71 615.53,938.42 615.96,937.12 616.39,935.83 616.70,934.90 616.82,934.74 617.25,935.72 617.68,936.90 618.11,938.09 618.54,939.28 618.90,940.27 618.97,940.46 619.40,941.65 619.60,942.20 619.83,942.65 620.26,943.48 620.69,944.31 620.80,944.52 621.12,945.14 621.55,945.98 621.98,946.81 622.41,947.64 622.60,948.00 622.84,948.11 623.27,949.97 623.70,951.82 624.00,953.10 624.13,952.81 624.56,951.88 625.00,950.95 625.43,950.02 625.86,949.09 626.20,948.80 626.29,948.75 626.72,948.49 627.15,948.24 627.58,947.98 627.70,947.91 628.01,947.73 628.44,947.47 628.87,947.21 629.30,946.96 629.73,946.70 629.90,946.60 630.16,946.21 630.59,945.55 631.02,944.90 631.30,944.48 631.45,944.25 631.88,943.60 632.31,942.94 632.74,942.29 632.80,942.20 633.17,940.97 633.60,939.54 634.03,938.11 634.20,937.55 634.46,936.68 634.89,935.26 635.32,933.83 635.75,932.40 636.18,930.97 636.61,929.54 637.04,928.12 637.20,927.60 637.47,927.25 637.91,926.70 638.34,926.15 638.77,925.60 639.20,925.05 639.63,924.50 639.80,924.28 640.06,923.96 640.10,923.90 640.49,924.16 640.92,924.46 641.35,924.75 641.78,925.04 642.21,925.34 642.30,925.40 642.64,924.47 643.07,923.28 643.50,922.09 643.93,920.90 644.36,919.72 644.50,919.33 644.79,918.53 645.20,917.40 645.22,917.31 645.65,915.49 646.08,913.67 646.51,911.85 646.60,911.48 646.94,910.03 647.37,908.21 647.80,906.40 647.80,906.42 648.23,909.07 648.40,910.10 648.66,911.72 649.09,914.37 649.52,917.02 649.95,919.67 650.00,919.95 650.30,921.80 650.38,922.47 650.81,925.89 651.25,929.32 651.68,932.74 651.80,933.73 652.11,936.16 652.50,939.30 652.54,939.24 652.97,938.59 653.20,938.23 653.40,937.93 653.83,937.27 654.26,936.62 654.40,936.40 654.69,938.13 654.70,938.20 655.12,940.71 655.55,943.29 655.98,945.87 656.10,946.60 656.41,950.35 656.84,955.57 657.27,960.79 657.60,964.80 657.70,965.10 657.70,965.30" fill="#dff3f3" stroke="none" stroke-width="1" stroke-linejoin="round" />
<path d="M486.00,965.10 L491.10,965.00 L507.20,964.20 L521.80,962.80 L536.40,959.90 L546.60,957.70 L554.60,954.70 L557.60,950.40 L561.20,945.30 L565.60,944.50 L569.20,944.10 L571.40,942.60 L574.40,943.80 L576.60,942.90 L579.50,945.80 L583.10,942.90 L586.10,943.60 L589.00,939.30 L592.60,945.10 L599.20,948.00 L606.50,949.50 L610.90,946.60 L613.80,943.60 L616.70,934.90 L618.90,932.00 L620.80,939.30 L624.00,953.10 L627.70,945.10 L631.30,942.90 L634.20,934.90 L637.20,915.90 L639.80,899.90 L642.30,899.10 L644.50,879.40 L646.60,873.60 L648.40,854.60 L650.00,876.50 L651.80,914.50 L653.20,916.60 L654.70,906.40 L656.10,927.60 L657.60,964.80 L657.70,965.10" fill="none" stroke="#b98cf0" stroke-width="1.0" stroke-linejoin="round" stroke-linecap="round" />
<path d="M486.00,965.10 L491.10,965.00 L499.90,964.20 L504.30,962.50 L507.20,963.90 L512.30,959.10 L515.20,961.00 L517.40,959.10 L520.30,956.20 L523.30,959.90 L526.20,953.30 L528.40,956.90 L532.70,952.60 L535.70,953.30 L538.60,947.40 L541.50,939.40 L544.90,929.20 L547.30,933.60 L551.00,943.80 L554.60,954.70 L557.60,950.40 L561.20,942.30 L564.10,929.20 L565.60,921.20 L567.30,929.20 L569.20,942.30 L572.20,946.00 L575.80,946.60 L581.70,944.40 L589.00,943.60 L596.30,944.40 L605.00,946.30 L608.20,945.10 L610.90,937.10 L613.10,942.20 L616.70,934.20 L619.60,942.20 L622.60,948.00 L626.20,948.80 L629.90,946.60 L632.80,942.20 L637.20,927.60 L640.10,923.90 L642.30,925.40 L645.20,917.40 L647.80,906.40 L650.30,921.80 L652.50,939.30 L654.40,936.40 L656.10,946.60 L657.60,964.80 L657.70,965.10" fill="none" stroke="#e2604e" stroke-width="1.0" stroke-linejoin="round" stroke-linecap="round" />
<rect x="483.40" y="819.20" width="182.10" height="146.10" fill="none" stroke="#000" stroke-width="1.3"/>
<line x1="483.50" y1="965.30" x2="483.50" y2="962.30" stroke="#000" stroke-width="1" stroke-linecap="butt"/>
<line x1="506.25" y1="965.30" x2="506.25" y2="963.50" stroke="#000" stroke-width="1" stroke-linecap="butt"/>
<line x1="529.00" y1="965.30" x2="529.00" y2="962.30" stroke="#000" stroke-width="1" stroke-linecap="butt"/>
<line x1="551.75" y1="965.30" x2="551.75" y2="963.50" stroke="#000" stroke-width="1" stroke-linecap="butt"/>
<line x1="574.50" y1="965.30" x2="574.50" y2="962.30" stroke="#000" stroke-width="1" stroke-linecap="butt"/>
<line x1="597.25" y1="965.30" x2="597.25" y2="963.50" stroke="#000" stroke-width="1" stroke-linecap="butt"/>
<line x1="620.00" y1="965.30" x2="620.00" y2="962.30" stroke="#000" stroke-width="1" stroke-linecap="butt"/>
<line x1="642.75" y1="965.30" x2="642.75" y2="963.50" stroke="#000" stroke-width="1" stroke-linecap="butt"/>
<line x1="665.50" y1="965.30" x2="665.50" y2="962.30" stroke="#000" stroke-width="1" stroke-linecap="butt"/>
<text x="483.50" y="974.96" font-size="7.4" font-weight="bold" text-anchor="middle" fill="#000">0</text>
<text x="529.00" y="974.96" font-size="7.4" font-weight="bold" text-anchor="middle" fill="#000">10</text>
<text x="574.50" y="974.96" font-size="7.4" font-weight="bold" text-anchor="middle" fill="#000">20</text>
<text x="620.00" y="974.96" font-size="7.4" font-weight="bold" text-anchor="middle" fill="#000">30</text>
<text x="665.50" y="974.96" font-size="7.4" font-weight="bold" text-anchor="middle" fill="#000">40</text>
<text x="574.45" y="985.35" font-size="8.2" font-weight="bold" text-anchor="middle" fill="#000" textLength="66.50" lengthAdjust="spacingAndGlyphs">Frequency (THz)</text>
<text x="473.60" y="892.02" font-size="8.4" font-weight="bold" text-anchor="middle" fill="#000" transform="rotate(-90 473.60 889.00)">PDOS</text>
<text x="455.40" y="827.30" font-size="20.5" font-weight="bold" fill="#000">m</text>
<text x="490.50" y="861.82" font-size="7.0" font-weight="bold" text-anchor="start" fill="#000" textLength="72.40" lengthAdjust="spacingAndGlyphs">Cu(100)/diamond(111)</text>
<text x="588.70" y="959.32" font-size="7.0" font-weight="bold" text-anchor="start" fill="#222" textLength="23.40" lengthAdjust="spacingAndGlyphs">78.93%</text>
<rect x="488.40" y="821.50" width="65.60" height="27.40" fill="#fff" stroke="#8a8a8a" stroke-width="0.7" />
<rect x="489.30" y="822.40" width="16.70" height="7.90" fill="#dff3f3" stroke="#aaa" stroke-width="0.5" />
<line x1="489.30" y1="835.60" x2="506.00" y2="835.60" stroke="#e2604e" stroke-width="1.0" stroke-linecap="butt"/>
<line x1="489.30" y1="844.30" x2="506.00" y2="844.30" stroke="#b98cf0" stroke-width="1.0" stroke-linecap="butt"/>
<text x="507.70" y="829.32" font-size="7.0" font-weight="bold" text-anchor="start" fill="#000" textLength="42.00" lengthAdjust="spacingAndGlyphs">Overlap area</text>
<text x="507.70" y="838.12" font-size="7.0" font-weight="bold" text-anchor="start" fill="#000" textLength="41.50" lengthAdjust="spacingAndGlyphs">I-PDOS-1-Dia</text>
<text x="507.70" y="846.82" font-size="7.0" font-weight="bold" text-anchor="start" fill="#000" textLength="41.50" lengthAdjust="spacingAndGlyphs">I-PDOS-2-Dia</text>
</svg></body></html>
